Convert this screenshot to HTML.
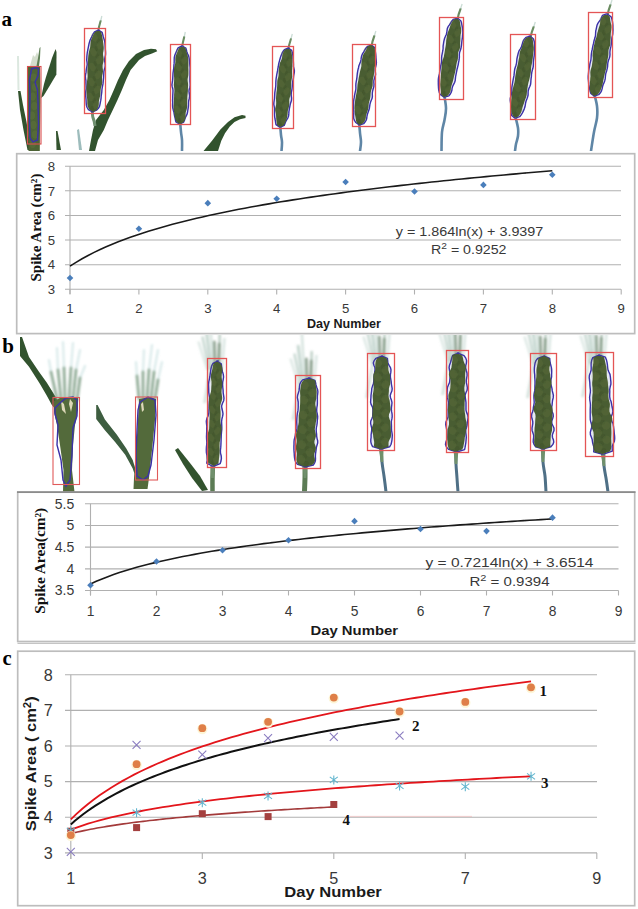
<!DOCTYPE html>
<html><head><meta charset="utf-8"><style>
html,body{margin:0;padding:0;background:#fff;width:638px;height:909px;overflow:hidden;}
svg{display:block;}
</style></head><body>
<svg width="638" height="909" viewBox="0 0 638 909">
<rect width="638" height="909" fill="#fff"/>
<defs><filter id="bl" x="-5%" y="-5%" width="110%" height="110%"><feGaussianBlur stdDeviation="0.45"/></filter><filter id="bl2" x="-50%" y="-50%" width="200%" height="200%"><feGaussianBlur stdDeviation="0.9"/></filter><clipPath id="ca"><rect x="0" y="0" width="638" height="151"/></clipPath><clipPath id="cb"><rect x="0" y="335" width="638" height="157"/></clipPath></defs>
<g filter="url(#bl)"><g clip-path="url(#ca)">
<path d="M17,56 L19,56 L19.5,90 L17.5,90Z" fill="#dce8e0"/>
<path d="M18,91 L20.5,91 L23,105 L26.5,122 L29.5,140 L30,150 L27.5,150 L23.5,130 L20,110Z" fill="#33532f"/>
<path d="M41,98 L44,84 L46,77 L52,58 L55.6,49 L56.5,52 L56.4,74.5 L50.6,84.3 L43.5,96Z" fill="#33532f"/>
<path d="M56,131 L57.5,131 L61,150 L56.5,150Z" fill="#33532f"/>
<path d="M89,151 L91,140 L93,130 L96,120 L103.8,110 L109.4,100 L113.8,90 L118,80 L123,70 L129,61 L136,54 L144,50 L151,48.8 L156,49.3 L157.2,51.2 L152,53.5 L145,56 L139,60 L134,66 L130.6,70 L126,80 L121.9,90 L117.5,100 L112.8,110 L108,120 L103.8,130 L98,140 L95,151Z" fill="#33532f"/>
<path d="M77,130 L79,129 L82,150 L79,150Z" fill="#9dbcbc"/>
<path d="M203.5,151 L212,140.7 L220.4,129.5 L228,122 L234.5,117.2 L242,114.9 L245.5,115.8 L245.5,118 L240,119.2 L234.5,122 L229.8,126.6 L225,133.2 L221.3,140.7 L218,151Z" fill="#33532f"/>
<path d="M30,66 L33,55 L35,57 L37,52 L38.5,56 L38,66Z" fill="#c9d6c0" opacity="0.8"/>
<path d="M36.5,66 L38,58 L39.5,48 L40.5,47 L40,58 L39,66Z" fill="#5f8056"/>
<path d="M28,67 L40,67 L40.5,100 L40,130 L39.8,151 L28.5,151 L28,130 Z" fill="#4e6434"/>
<ellipse cx="33.5" cy="77.5" rx="3" ry="4" fill="#6b7f46" opacity="0.3"/>
<ellipse cx="35.1" cy="87.0" rx="3" ry="4" fill="#6b7f46" opacity="0.3"/>
<ellipse cx="32.7" cy="96.5" rx="3" ry="4" fill="#6b7f46" opacity="0.3"/>
<ellipse cx="34.3" cy="106.0" rx="3" ry="4" fill="#6b7f46" opacity="0.3"/>
<ellipse cx="31.9" cy="115.5" rx="3" ry="4" fill="#6b7f46" opacity="0.3"/>
<ellipse cx="33.5" cy="125.0" rx="3" ry="4" fill="#6b7f46" opacity="0.3"/>
<ellipse cx="35.1" cy="134.5" rx="3" ry="4" fill="#6b7f46" opacity="0.3"/>
<ellipse cx="32.7" cy="144.0" rx="3" ry="4" fill="#6b7f46" opacity="0.3"/>
<path d="M31.5,69 L36,67.5 L38.5,69 L38,76 L35,82 L37.5,90 L38,100 L38.5,125 L37.5,140 L33,142 L30,138 L29.5,120 L30,95 L29.5,80Z" fill="none" stroke="#3a30a8" stroke-width="1.4"/>
<rect x="27.5" y="66.5" width="13.5" height="77.5" fill="none" stroke="#d95050" stroke-width="1.1"/>
<path d="M92.5,109.0 C92.0,122.0 93.5,114.0 95.0,126.0" stroke="#6f9070" stroke-width="3" fill="none"/>
<path d="M98.0,34.0 Q98.8,26.0 100.6,21.0" stroke="#6a8c60" stroke-width="2.1" fill="none" stroke-linecap="round"/>
<line x1="100.6" y1="21.0" x2="101.9" y2="16.0" stroke="#a9c6bb" stroke-width="1.3" opacity="0.6"/>
<path d="M98.7,30.0 L94.5,31.8 L93.2,33.8 L92.2,35.8 L91.2,37.8 L90.2,39.8 L89.6,41.8 L89.0,43.8 L88.6,45.8 L88.2,47.9 L87.8,49.9 L87.4,51.9 L87.1,54.0 L86.9,56.0 L86.8,58.1 L86.7,60.1 L87.0,62.2 L87.2,64.3 L86.9,66.3 L86.5,68.4 L86.2,70.4 L86.0,72.4 L85.5,74.5 L85.3,76.5 L85.5,78.6 L85.9,80.7 L85.9,82.7 L86.0,84.8 L86.1,86.9 L86.1,88.9 L85.8,91.0 L85.6,93.0 L85.6,95.1 L85.8,97.1 L86.0,99.2 L86.1,101.3 L86.2,103.3 L86.4,105.4 L87.1,107.5 L88.4,109.7 L92.5,112.0 L92.1,112.0 L96.5,110.2 L98.4,108.3 L99.5,106.3 L100.0,104.3 L100.4,102.2 L100.8,100.2 L101.1,98.2 L101.2,96.1 L101.5,94.1 L101.8,92.0 L101.9,90.0 L102.2,87.9 L102.6,85.9 L103.0,83.9 L103.2,81.8 L103.4,79.8 L103.6,77.7 L103.7,75.7 L103.8,73.6 L103.9,71.6 L104.3,69.6 L105.0,67.5 L105.3,65.5 L105.1,63.4 L104.7,61.3 L104.6,59.3 L105.0,57.2 L105.5,55.2 L105.6,53.2 L105.5,51.1 L105.3,49.0 L105.2,47.0 L105.1,44.9 L104.9,42.8 L104.6,40.7 L103.9,38.6 L103.2,36.5 L102.7,34.4 L102.1,32.3 L98.5,30.0Z" fill="#e6e9f3" stroke="#3a30a8" stroke-width="1.4" stroke-linejoin="round"/>
<path d="M98.6,30.0 L95.0,31.9 L93.8,33.8 L92.9,35.8 L92.0,37.8 L91.1,39.8 L90.6,41.9 L90.4,43.9 L90.3,46.0 L90.0,48.0 L89.4,50.0 L88.9,52.0 L88.6,54.1 L88.3,56.1 L88.1,58.2 L88.0,60.2 L87.9,62.3 L87.9,64.3 L87.7,66.4 L87.5,68.4 L87.4,70.5 L87.4,72.5 L87.6,74.6 L87.6,76.7 L87.4,78.7 L87.1,80.7 L86.9,82.8 L86.7,84.8 L86.5,86.9 L86.4,88.9 L86.5,91.0 L86.6,93.1 L86.7,95.1 L87.0,97.2 L87.2,99.3 L87.3,101.4 L87.3,103.4 L87.5,105.5 L88.2,107.6 L89.5,109.7 L93.0,112.0 L93.0,112.0 L96.5,110.2 L97.7,108.2 L98.5,106.2 L98.8,104.2 L98.8,102.1 L99.1,100.1 L99.6,98.1 L100.1,96.0 L100.4,94.0 L100.5,91.9 L100.6,89.9 L100.9,87.9 L101.6,85.8 L102.1,83.8 L102.2,81.8 L102.1,79.7 L102.0,77.6 L102.2,75.6 L102.7,73.6 L103.0,71.5 L102.9,69.5 L102.6,67.4 L102.6,65.3 L103.0,63.3 L103.5,61.3 L103.7,59.2 L103.4,57.1 L103.0,55.0 L103.0,53.0 L103.4,51.0 L103.7,48.9 L103.7,46.9 L103.4,44.8 L103.1,42.7 L102.9,40.6 L102.6,38.5 L102.2,36.5 L101.8,34.4 L101.3,32.3 L98.3,30.0Z" fill="#495d31"/>
<ellipse cx="94.5" cy="37.3" rx="3.0" ry="4.5" fill="#6d8148" opacity="0.22" transform="rotate(-25 94.5 37.3)"/>
<ellipse cx="98.2" cy="41.2" rx="1.8" ry="2.6" fill="#3a4c26" opacity="0.28"/>
<ellipse cx="100.0" cy="45.1" rx="3.0" ry="4.5" fill="#6d8148" opacity="0.22" transform="rotate(25 100.0 45.1)"/>
<ellipse cx="96.3" cy="48.6" rx="1.8" ry="2.6" fill="#3a4c26" opacity="0.28"/>
<ellipse cx="93.5" cy="52.2" rx="3.0" ry="4.5" fill="#6d8148" opacity="0.22" transform="rotate(-25 93.5 52.2)"/>
<ellipse cx="97.2" cy="56.1" rx="1.8" ry="2.6" fill="#3a4c26" opacity="0.28"/>
<ellipse cx="99.0" cy="60.0" rx="3.0" ry="4.5" fill="#6d8148" opacity="0.22" transform="rotate(25 99.0 60.0)"/>
<ellipse cx="95.3" cy="63.6" rx="1.8" ry="2.6" fill="#3a4c26" opacity="0.28"/>
<ellipse cx="92.5" cy="67.1" rx="3.0" ry="4.5" fill="#6d8148" opacity="0.22" transform="rotate(-25 92.5 67.1)"/>
<ellipse cx="96.2" cy="71.0" rx="1.8" ry="2.6" fill="#3a4c26" opacity="0.28"/>
<ellipse cx="98.0" cy="74.9" rx="3.0" ry="4.5" fill="#6d8148" opacity="0.22" transform="rotate(25 98.0 74.9)"/>
<ellipse cx="94.3" cy="78.5" rx="1.8" ry="2.6" fill="#3a4c26" opacity="0.28"/>
<ellipse cx="91.5" cy="82.0" rx="3.0" ry="4.5" fill="#6d8148" opacity="0.22" transform="rotate(-25 91.5 82.0)"/>
<ellipse cx="95.2" cy="85.9" rx="1.8" ry="2.6" fill="#3a4c26" opacity="0.28"/>
<ellipse cx="97.0" cy="89.8" rx="3.0" ry="4.5" fill="#6d8148" opacity="0.22" transform="rotate(25 97.0 89.8)"/>
<ellipse cx="93.3" cy="93.4" rx="1.8" ry="2.6" fill="#3a4c26" opacity="0.28"/>
<ellipse cx="90.5" cy="96.9" rx="3.0" ry="4.5" fill="#6d8148" opacity="0.22" transform="rotate(-25 90.5 96.9)"/>
<ellipse cx="94.2" cy="100.8" rx="1.8" ry="2.6" fill="#3a4c26" opacity="0.28"/>
<ellipse cx="96.0" cy="104.7" rx="3.0" ry="4.5" fill="#6d8148" opacity="0.22" transform="rotate(25 96.0 104.7)"/>
<ellipse cx="92.3" cy="108.3" rx="1.8" ry="2.6" fill="#3a4c26" opacity="0.28"/>
<rect x="84.5" y="28.5" width="21" height="85" fill="none" stroke="#e45555" stroke-width="1.3"/>
<path d="M180.0,121.0 C180.2,122.8 180.7,128.8 181.0,132.0 C181.3,135.2 181.8,136.8 182.0,140.0 C182.2,143.2 182.0,149.2 182.0,151.0" stroke="#5f86a6" stroke-width="2.6" fill="none" stroke-linecap="round"/>
<path d="M182.0,50.0 Q182.6,42.0 184.2,37.0" stroke="#6a8c60" stroke-width="2.1" fill="none" stroke-linecap="round"/>
<line x1="184.2" y1="37.0" x2="185.3" y2="32.0" stroke="#a9c6bb" stroke-width="1.3" opacity="0.6"/>
<path d="M181.9,46.0 L178.1,47.9 L177.1,49.8 L176.3,51.7 L175.5,53.6 L174.7,55.6 L174.3,57.5 L174.2,59.5 L174.2,61.4 L174.1,63.4 L173.9,65.3 L173.8,67.3 L173.6,69.2 L173.3,71.1 L173.0,73.1 L172.9,75.0 L172.8,77.0 L172.7,78.9 L172.5,80.9 L172.2,82.8 L171.9,84.8 L172.2,86.7 L172.8,88.7 L173.0,90.6 L172.9,92.6 L172.8,94.5 L172.7,96.5 L172.7,98.4 L172.6,100.4 L172.7,102.3 L172.6,104.3 L172.6,106.2 L172.8,108.2 L173.3,110.2 L173.9,112.1 L174.2,114.1 L174.6,116.1 L175.1,118.0 L175.5,120.0 L175.9,121.9 L179.3,124.0 L180.0,124.0 L183.7,122.1 L184.5,120.2 L185.1,118.3 L186.0,116.3 L187.0,114.4 L187.5,112.5 L187.8,110.5 L188.1,108.6 L188.4,106.7 L188.5,104.7 L188.5,102.8 L188.7,100.8 L189.2,98.9 L189.6,96.9 L189.6,95.0 L189.2,93.0 L189.0,91.1 L189.3,89.1 L189.9,87.2 L190.2,85.2 L190.1,83.3 L189.9,81.3 L189.9,79.4 L189.9,77.4 L190.0,75.5 L190.0,73.5 L190.0,71.6 L190.1,69.6 L190.1,67.7 L189.9,65.7 L189.7,63.8 L189.5,61.8 L189.3,59.8 L189.1,57.9 L188.6,55.9 L187.7,54.0 L186.9,52.0 L186.4,50.0 L185.8,48.0 L182.3,46.0Z" fill="#e6e9f3" stroke="#3a30a8" stroke-width="1.4" stroke-linejoin="round"/>
<path d="M182.3,46.0 L179.1,47.9 L178.2,49.8 L177.5,51.7 L176.7,53.7 L175.8,55.6 L175.4,57.5 L175.3,59.5 L175.4,61.4 L175.2,63.4 L174.7,65.3 L174.2,67.3 L174.0,69.2 L174.0,71.2 L173.9,73.1 L173.9,75.1 L174.1,77.0 L174.2,79.0 L174.1,80.9 L174.0,82.9 L173.8,84.8 L174.0,86.8 L174.3,88.7 L174.4,90.7 L174.3,92.6 L174.1,94.6 L174.1,96.5 L174.0,98.5 L173.9,100.4 L173.9,102.4 L173.7,104.3 L173.5,106.3 L173.6,108.2 L173.8,110.2 L174.1,112.1 L174.3,114.1 L174.6,116.1 L175.0,118.0 L175.6,120.0 L176.5,122.0 L179.7,124.0 L180.6,124.0 L183.8,122.1 L184.7,120.2 L185.4,118.3 L185.6,116.3 L185.5,114.4 L185.7,112.4 L186.3,110.5 L186.9,108.6 L187.2,106.6 L187.1,104.7 L187.1,102.7 L187.2,100.8 L187.3,98.8 L187.3,96.9 L187.5,94.9 L187.7,93.0 L187.9,91.0 L187.9,89.1 L188.0,87.1 L188.1,85.2 L188.0,83.2 L187.7,81.3 L187.6,79.3 L187.9,77.4 L188.3,75.4 L188.4,73.5 L188.4,71.5 L188.4,69.6 L188.3,67.6 L188.4,65.7 L188.4,63.7 L188.3,61.8 L188.2,59.8 L188.1,57.9 L187.8,55.9 L187.2,53.9 L186.6,52.0 L186.1,50.0 L185.3,48.0 L182.2,46.0Z" fill="#495d31"/>
<ellipse cx="179.0" cy="53.0" rx="2.8" ry="4.3" fill="#6d8148" opacity="0.22" transform="rotate(-25 179.0 53.0)"/>
<ellipse cx="182.5" cy="56.6" rx="1.7" ry="2.5" fill="#3a4c26" opacity="0.28"/>
<ellipse cx="184.4" cy="60.3" rx="2.8" ry="4.3" fill="#6d8148" opacity="0.22" transform="rotate(25 184.4 60.3)"/>
<ellipse cx="180.9" cy="63.7" rx="1.7" ry="2.5" fill="#3a4c26" opacity="0.28"/>
<ellipse cx="178.7" cy="67.2" rx="2.8" ry="4.3" fill="#6d8148" opacity="0.22" transform="rotate(-25 178.7 67.2)"/>
<ellipse cx="182.2" cy="70.8" rx="1.7" ry="2.5" fill="#3a4c26" opacity="0.28"/>
<ellipse cx="184.1" cy="74.4" rx="2.8" ry="4.3" fill="#6d8148" opacity="0.22" transform="rotate(25 184.1 74.4)"/>
<ellipse cx="180.6" cy="77.9" rx="1.7" ry="2.5" fill="#3a4c26" opacity="0.28"/>
<ellipse cx="178.3" cy="81.4" rx="2.8" ry="4.3" fill="#6d8148" opacity="0.22" transform="rotate(-25 178.3 81.4)"/>
<ellipse cx="181.8" cy="85.0" rx="1.7" ry="2.5" fill="#3a4c26" opacity="0.28"/>
<ellipse cx="183.7" cy="88.6" rx="2.8" ry="4.3" fill="#6d8148" opacity="0.22" transform="rotate(25 183.7 88.6)"/>
<ellipse cx="180.2" cy="92.1" rx="1.7" ry="2.5" fill="#3a4c26" opacity="0.28"/>
<ellipse cx="177.9" cy="95.6" rx="2.8" ry="4.3" fill="#6d8148" opacity="0.22" transform="rotate(-25 177.9 95.6)"/>
<ellipse cx="181.4" cy="99.2" rx="1.7" ry="2.5" fill="#3a4c26" opacity="0.28"/>
<ellipse cx="183.3" cy="102.8" rx="2.8" ry="4.3" fill="#6d8148" opacity="0.22" transform="rotate(25 183.3 102.8)"/>
<ellipse cx="179.8" cy="106.3" rx="1.7" ry="2.5" fill="#3a4c26" opacity="0.28"/>
<ellipse cx="177.6" cy="109.7" rx="2.8" ry="4.3" fill="#6d8148" opacity="0.22" transform="rotate(-25 177.6 109.7)"/>
<ellipse cx="181.1" cy="113.4" rx="1.7" ry="2.5" fill="#3a4c26" opacity="0.28"/>
<ellipse cx="183.0" cy="117.0" rx="2.8" ry="4.3" fill="#6d8148" opacity="0.22" transform="rotate(25 183.0 117.0)"/>
<ellipse cx="179.5" cy="120.5" rx="1.7" ry="2.5" fill="#3a4c26" opacity="0.28"/>
<rect x="170.5" y="44.5" width="20" height="80" fill="none" stroke="#e45555" stroke-width="1.3"/>
<path d="M280.0,124.0 C280.2,125.8 280.7,132.0 281.0,135.0 C281.3,138.0 281.9,139.3 282.0,142.0 C282.1,144.7 281.6,149.5 281.5,151.0" stroke="#5f86a6" stroke-width="2.6" fill="none" stroke-linecap="round"/>
<path d="M288.0,52.0 Q289.0,44.0 290.9,39.0" stroke="#6a8c60" stroke-width="2.1" fill="none" stroke-linecap="round"/>
<line x1="290.9" y1="39.0" x2="292.3" y2="34.0" stroke="#a9c6bb" stroke-width="1.3" opacity="0.6"/>
<path d="M288.4,48.0 L284.4,49.6 L283.0,51.5 L282.0,53.4 L281.2,55.3 L280.5,57.2 L279.9,59.2 L279.4,61.1 L278.9,63.0 L278.5,65.0 L278.2,67.0 L277.8,68.9 L277.5,70.9 L277.1,72.8 L276.7,74.8 L276.4,76.8 L276.1,78.7 L275.9,80.7 L275.8,82.7 L275.8,84.7 L275.7,86.7 L275.4,88.6 L275.1,90.6 L274.8,92.6 L274.7,94.5 L274.6,96.5 L274.5,98.5 L274.2,100.5 L273.9,102.4 L273.8,104.4 L274.2,106.5 L274.5,108.5 L274.5,110.5 L274.5,112.5 L274.5,114.5 L274.6,116.5 L274.9,118.5 L275.3,120.5 L275.6,122.6 L276.0,124.6 L279.3,126.9 L280.5,127.1 L284.2,125.4 L285.0,123.5 L285.7,121.6 L286.8,119.7 L287.9,117.8 L288.6,115.9 L288.8,113.9 L288.9,111.9 L289.2,110.0 L289.5,108.0 L289.9,106.1 L290.3,104.1 L290.9,102.2 L291.5,100.2 L291.6,98.2 L291.3,96.2 L291.2,94.2 L291.4,92.2 L291.8,90.3 L292.1,88.3 L292.3,86.3 L292.4,84.4 L292.6,82.4 L292.9,80.4 L293.4,78.5 L293.6,76.5 L293.9,74.5 L294.3,72.6 L294.4,70.6 L294.0,68.6 L293.5,66.5 L293.5,64.5 L293.4,62.5 L293.3,60.5 L293.1,58.5 L293.0,56.5 L292.7,54.5 L292.3,52.4 L291.7,50.4 L288.3,48.0Z" fill="#e6e9f3" stroke="#3a30a8" stroke-width="1.4" stroke-linejoin="round"/>
<path d="M288.2,48.0 L284.8,49.7 L283.6,51.5 L282.8,53.5 L282.3,55.4 L282.1,57.4 L281.6,59.3 L280.8,61.2 L279.9,63.1 L279.5,65.1 L279.1,67.1 L278.9,69.0 L278.6,71.0 L278.6,73.0 L278.6,75.0 L278.3,76.9 L277.7,78.9 L277.3,80.8 L277.2,82.8 L277.2,84.8 L277.1,86.8 L276.9,88.8 L276.7,90.7 L276.4,92.7 L276.3,94.7 L276.1,96.7 L276.0,98.7 L276.1,100.7 L276.2,102.7 L276.1,104.7 L275.7,106.6 L275.2,108.6 L275.2,110.6 L275.7,112.6 L276.0,114.6 L276.1,116.6 L276.2,118.6 L276.4,120.7 L276.7,122.7 L277.0,124.7 L279.7,127.0 L280.4,127.0 L283.7,125.4 L284.9,123.5 L285.7,121.6 L286.4,119.7 L287.0,117.7 L287.4,115.8 L287.6,113.8 L287.7,111.8 L288.0,109.9 L288.6,107.9 L289.1,106.0 L289.3,104.0 L289.3,102.0 L289.2,100.0 L289.6,98.0 L290.3,96.1 L290.8,94.2 L290.9,92.2 L290.9,90.2 L291.0,88.2 L291.1,86.2 L291.1,84.2 L291.2,82.2 L291.5,80.3 L291.9,78.3 L292.2,76.4 L292.1,74.4 L292.0,72.3 L292.0,70.4 L292.2,68.4 L292.3,66.4 L292.3,64.4 L292.4,62.4 L292.4,60.4 L292.3,58.4 L292.2,56.4 L291.9,54.4 L291.5,52.3 L290.9,50.3 L288.0,48.0Z" fill="#495d31"/>
<ellipse cx="284.5" cy="54.9" rx="2.8" ry="4.3" fill="#6d8148" opacity="0.22" transform="rotate(-25 284.5 54.9)"/>
<ellipse cx="288.0" cy="58.8" rx="1.7" ry="2.5" fill="#3a4c26" opacity="0.28"/>
<ellipse cx="289.3" cy="62.6" rx="2.8" ry="4.3" fill="#6d8148" opacity="0.22" transform="rotate(25 289.3 62.6)"/>
<ellipse cx="285.8" cy="66.0" rx="1.7" ry="2.5" fill="#3a4c26" opacity="0.28"/>
<ellipse cx="283.0" cy="69.3" rx="2.8" ry="4.3" fill="#6d8148" opacity="0.22" transform="rotate(-25 283.0 69.3)"/>
<ellipse cx="286.5" cy="73.2" rx="1.7" ry="2.5" fill="#3a4c26" opacity="0.28"/>
<ellipse cx="287.9" cy="77.0" rx="2.8" ry="4.3" fill="#6d8148" opacity="0.22" transform="rotate(25 287.9 77.0)"/>
<ellipse cx="284.4" cy="80.3" rx="1.7" ry="2.5" fill="#3a4c26" opacity="0.28"/>
<ellipse cx="281.6" cy="83.6" rx="2.8" ry="4.3" fill="#6d8148" opacity="0.22" transform="rotate(-25 281.6 83.6)"/>
<ellipse cx="285.1" cy="87.5" rx="1.7" ry="2.5" fill="#3a4c26" opacity="0.28"/>
<ellipse cx="286.4" cy="91.4" rx="2.8" ry="4.3" fill="#6d8148" opacity="0.22" transform="rotate(25 286.4 91.4)"/>
<ellipse cx="282.9" cy="94.7" rx="1.7" ry="2.5" fill="#3a4c26" opacity="0.28"/>
<ellipse cx="280.1" cy="98.0" rx="2.8" ry="4.3" fill="#6d8148" opacity="0.22" transform="rotate(-25 280.1 98.0)"/>
<ellipse cx="283.6" cy="101.9" rx="1.7" ry="2.5" fill="#3a4c26" opacity="0.28"/>
<ellipse cx="285.0" cy="105.7" rx="2.8" ry="4.3" fill="#6d8148" opacity="0.22" transform="rotate(25 285.0 105.7)"/>
<ellipse cx="281.5" cy="109.1" rx="1.7" ry="2.5" fill="#3a4c26" opacity="0.28"/>
<ellipse cx="278.7" cy="112.4" rx="2.8" ry="4.3" fill="#6d8148" opacity="0.22" transform="rotate(-25 278.7 112.4)"/>
<ellipse cx="282.2" cy="116.2" rx="1.7" ry="2.5" fill="#3a4c26" opacity="0.28"/>
<ellipse cx="283.5" cy="120.1" rx="2.8" ry="4.3" fill="#6d8148" opacity="0.22" transform="rotate(25 283.5 120.1)"/>
<ellipse cx="280.0" cy="123.4" rx="1.7" ry="2.5" fill="#3a4c26" opacity="0.28"/>
<rect x="272.5" y="46.5" width="21" height="82" fill="none" stroke="#e45555" stroke-width="1.3"/>
<path d="M359.0,122.0 C359.2,123.8 359.7,129.7 360.0,133.0 C360.3,136.3 361.0,139.0 361.0,142.0 C361.0,145.0 360.2,149.5 360.0,151.0" stroke="#5f86a6" stroke-width="2.6" fill="none" stroke-linecap="round"/>
<path d="M371.0,49.0 Q372.2,41.0 374.3,36.0" stroke="#6a8c60" stroke-width="2.1" fill="none" stroke-linecap="round"/>
<line x1="374.3" y1="36.0" x2="375.9" y2="31.0" stroke="#a9c6bb" stroke-width="1.3" opacity="0.6"/>
<path d="M371.7,45.1 L367.4,46.5 L365.8,48.3 L364.7,50.2 L363.6,52.1 L362.4,53.9 L361.6,55.9 L361.2,57.8 L361.0,59.9 L360.5,61.8 L359.7,63.8 L358.9,65.7 L358.5,67.7 L358.0,69.6 L357.6,71.6 L357.3,73.6 L357.1,75.6 L356.9,77.6 L356.6,79.6 L356.2,81.6 L355.9,83.6 L355.8,85.7 L355.9,87.7 L355.8,89.8 L355.3,91.7 L354.9,93.7 L354.5,95.7 L354.2,97.7 L353.8,99.7 L353.6,101.7 L353.5,103.7 L353.5,105.8 L353.5,107.8 L353.6,109.9 L353.8,111.9 L353.7,114.0 L353.6,116.0 L353.6,118.1 L354.3,120.2 L355.7,122.5 L359.6,125.1 L359.5,125.1 L363.7,123.7 L365.2,121.8 L366.3,120.0 L366.8,118.0 L367.0,116.0 L367.5,114.0 L368.2,112.1 L368.9,110.1 L369.4,108.2 L369.7,106.2 L370.0,104.1 L370.5,102.2 L371.3,100.3 L372.1,98.3 L372.4,96.3 L372.3,94.3 L372.4,92.2 L372.8,90.3 L373.4,88.3 L373.9,86.3 L374.0,84.3 L373.8,82.2 L373.9,80.2 L374.5,78.2 L375.2,76.3 L375.6,74.3 L375.4,72.2 L375.2,70.2 L375.3,68.1 L375.8,66.2 L376.3,64.2 L376.4,62.2 L376.2,60.1 L376.0,58.0 L375.9,56.0 L375.7,53.9 L375.4,51.8 L375.1,49.7 L374.7,47.6 L371.3,45.1Z" fill="#e6e9f3" stroke="#3a30a8" stroke-width="1.4" stroke-linejoin="round"/>
<path d="M370.5,44.9 L367.3,46.5 L366.6,48.4 L365.9,50.4 L364.8,52.2 L363.5,54.1 L362.7,56.0 L362.3,58.0 L361.9,60.0 L361.5,62.0 L361.4,64.0 L361.4,66.1 L361.0,68.0 L360.4,70.0 L359.9,72.0 L359.5,74.0 L359.1,75.9 L358.7,77.9 L358.4,79.9 L358.0,81.9 L357.6,83.9 L357.4,85.9 L357.3,87.9 L357.1,90.0 L356.7,91.9 L356.3,93.9 L355.9,95.9 L355.6,97.9 L355.2,99.9 L355.0,101.9 L354.8,103.9 L354.6,105.9 L354.5,108.0 L354.7,110.0 L354.8,112.1 L354.9,114.2 L355.3,116.3 L355.7,118.4 L356.0,120.5 L356.5,122.6 L359.4,125.1 L359.3,125.0 L362.9,123.5 L364.3,121.7 L365.3,119.8 L365.8,117.8 L366.0,115.8 L366.5,113.9 L367.2,111.9 L367.9,110.0 L368.4,108.0 L368.6,106.0 L368.7,104.0 L369.1,102.0 L369.7,100.0 L370.2,98.1 L370.5,96.1 L370.6,94.0 L370.8,92.0 L371.3,90.0 L372.0,88.1 L372.6,86.1 L372.7,84.1 L372.7,82.1 L372.8,80.0 L373.2,78.1 L373.7,76.1 L374.0,74.1 L374.2,72.1 L374.3,70.0 L374.5,68.0 L375.0,66.0 L375.4,64.1 L375.5,62.0 L375.6,60.0 L375.6,58.0 L375.6,55.9 L375.5,53.8 L375.2,51.8 L374.9,49.7 L374.3,47.5 L371.4,45.1Z" fill="#495d31"/>
<ellipse cx="367.0" cy="51.8" rx="2.9" ry="4.4" fill="#6d8148" opacity="0.22" transform="rotate(-25 367.0 51.8)"/>
<ellipse cx="370.6" cy="55.9" rx="1.7" ry="2.6" fill="#3a4c26" opacity="0.28"/>
<ellipse cx="371.7" cy="60.0" rx="2.9" ry="4.4" fill="#6d8148" opacity="0.22" transform="rotate(25 371.7 60.0)"/>
<ellipse cx="368.1" cy="63.2" rx="1.7" ry="2.6" fill="#3a4c26" opacity="0.28"/>
<ellipse cx="364.9" cy="66.4" rx="2.9" ry="4.4" fill="#6d8148" opacity="0.22" transform="rotate(-25 364.9 66.4)"/>
<ellipse cx="368.4" cy="70.5" rx="1.7" ry="2.6" fill="#3a4c26" opacity="0.28"/>
<ellipse cx="369.5" cy="74.5" rx="2.9" ry="4.4" fill="#6d8148" opacity="0.22" transform="rotate(25 369.5 74.5)"/>
<ellipse cx="365.9" cy="77.8" rx="1.7" ry="2.6" fill="#3a4c26" opacity="0.28"/>
<ellipse cx="362.7" cy="80.9" rx="2.9" ry="4.4" fill="#6d8148" opacity="0.22" transform="rotate(-25 362.7 80.9)"/>
<ellipse cx="366.3" cy="85.0" rx="1.7" ry="2.6" fill="#3a4c26" opacity="0.28"/>
<ellipse cx="367.3" cy="89.1" rx="2.9" ry="4.4" fill="#6d8148" opacity="0.22" transform="rotate(25 367.3 89.1)"/>
<ellipse cx="363.7" cy="92.3" rx="1.7" ry="2.6" fill="#3a4c26" opacity="0.28"/>
<ellipse cx="360.5" cy="95.5" rx="2.9" ry="4.4" fill="#6d8148" opacity="0.22" transform="rotate(-25 360.5 95.5)"/>
<ellipse cx="364.1" cy="99.6" rx="1.7" ry="2.6" fill="#3a4c26" opacity="0.28"/>
<ellipse cx="365.1" cy="103.6" rx="2.9" ry="4.4" fill="#6d8148" opacity="0.22" transform="rotate(25 365.1 103.6)"/>
<ellipse cx="361.6" cy="106.9" rx="1.7" ry="2.6" fill="#3a4c26" opacity="0.28"/>
<ellipse cx="358.3" cy="110.0" rx="2.9" ry="4.4" fill="#6d8148" opacity="0.22" transform="rotate(-25 358.3 110.0)"/>
<ellipse cx="361.9" cy="114.1" rx="1.7" ry="2.6" fill="#3a4c26" opacity="0.28"/>
<ellipse cx="363.0" cy="118.2" rx="2.9" ry="4.4" fill="#6d8148" opacity="0.22" transform="rotate(25 363.0 118.2)"/>
<ellipse cx="359.4" cy="121.4" rx="1.7" ry="2.6" fill="#3a4c26" opacity="0.28"/>
<rect x="352.5" y="44.5" width="23" height="82" fill="none" stroke="#e45555" stroke-width="1.3"/>
<path d="M444.0,94.0 C444.3,96.3 445.9,103.7 446.0,108.0 C446.1,112.3 445.2,116.0 444.5,120.0 C443.8,124.0 442.5,126.8 442.0,132.0 C441.5,137.2 441.6,147.8 441.5,151.0" stroke="#5f86a6" stroke-width="2.6" fill="none" stroke-linecap="round"/>
<path d="M457.0,22.0 Q458.3,14.0 460.5,9.0" stroke="#6a8c60" stroke-width="2.1" fill="none" stroke-linecap="round"/>
<line x1="460.5" y1="9.0" x2="462.1" y2="4.0" stroke="#a9c6bb" stroke-width="1.3" opacity="0.6"/>
<path d="M457.4,18.1 L453.2,19.4 L451.7,21.2 L450.7,23.0 L449.4,24.9 L448.1,26.7 L447.3,28.6 L447.0,30.6 L446.8,32.5 L446.3,34.5 L445.4,36.4 L444.6,38.3 L444.1,40.2 L443.7,42.2 L443.4,44.2 L443.1,46.1 L443.1,48.2 L442.9,50.2 L442.5,52.1 L442.1,54.1 L441.7,56.1 L441.6,58.1 L441.6,60.1 L441.5,62.1 L441.1,64.1 L440.7,66.0 L440.3,68.0 L440.0,70.0 L439.7,71.9 L439.4,73.9 L438.9,75.9 L438.5,77.8 L438.3,79.8 L438.3,81.9 L438.3,83.9 L438.4,85.9 L438.5,88.0 L438.7,90.0 L439.2,92.2 L440.0,94.3 L443.6,96.9 L444.7,97.1 L448.9,95.8 L450.3,94.0 L451.3,92.1 L451.9,90.2 L452.1,88.2 L452.7,86.3 L453.6,84.4 L454.6,82.5 L455.2,80.6 L455.4,78.6 L455.6,76.6 L456.0,74.6 L456.4,72.7 L456.8,70.7 L457.2,68.7 L457.7,66.8 L458.2,64.8 L458.5,62.9 L458.9,60.9 L459.2,58.9 L459.4,56.9 L459.3,54.9 L459.5,52.9 L460.1,51.0 L460.8,49.1 L461.2,47.1 L461.5,45.1 L461.7,43.1 L461.9,41.1 L462.2,39.1 L462.5,37.2 L462.6,35.2 L462.8,33.1 L462.8,31.1 L462.7,29.1 L462.3,27.0 L461.9,24.9 L461.5,22.8 L460.8,20.7 L457.3,18.0Z" fill="#e6e9f3" stroke="#3a30a8" stroke-width="1.4" stroke-linejoin="round"/>
<path d="M457.6,18.1 L453.9,19.5 L452.4,21.3 L451.4,23.2 L450.6,25.1 L449.9,27.0 L449.2,28.9 L448.5,30.8 L447.7,32.7 L447.2,34.6 L446.9,36.6 L446.5,38.6 L446.2,40.6 L446.1,42.6 L445.9,44.6 L445.6,46.5 L445.2,48.5 L444.9,50.5 L444.6,52.5 L444.2,54.4 L443.9,56.4 L443.3,58.3 L442.5,60.2 L442.0,62.2 L441.8,64.2 L441.7,66.2 L441.5,68.2 L441.3,70.2 L441.1,72.2 L440.9,74.2 L440.8,76.2 L440.7,78.2 L440.6,80.2 L440.4,82.2 L440.2,84.2 L440.3,86.2 L440.5,88.3 L440.8,90.4 L440.9,92.4 L441.0,94.5 L443.6,96.9 L444.5,97.1 L448.0,95.6 L449.2,93.8 L450.2,91.9 L450.7,90.0 L450.9,88.0 L451.4,86.1 L452.0,84.1 L452.6,82.2 L453.1,80.2 L453.6,78.3 L454.0,76.3 L454.5,74.4 L455.0,72.4 L455.4,70.5 L455.8,68.5 L456.1,66.5 L456.4,64.6 L456.8,62.6 L457.4,60.7 L457.9,58.7 L458.0,56.7 L458.0,54.7 L458.1,52.7 L458.8,50.8 L459.7,48.9 L460.1,46.9 L460.1,44.9 L460.1,42.9 L460.3,40.9 L460.4,38.8 L460.4,36.8 L460.6,34.8 L461.0,32.9 L461.2,30.9 L461.2,28.8 L460.7,26.7 L460.3,24.6 L460.1,22.6 L459.6,20.5 L456.8,18.0Z" fill="#495d31"/>
<ellipse cx="453.0" cy="24.7" rx="2.9" ry="4.4" fill="#6d8148" opacity="0.22" transform="rotate(-25 453.0 24.7)"/>
<ellipse cx="456.5" cy="28.8" rx="1.7" ry="2.5" fill="#3a4c26" opacity="0.28"/>
<ellipse cx="457.5" cy="32.8" rx="2.9" ry="4.4" fill="#6d8148" opacity="0.22" transform="rotate(25 457.5 32.8)"/>
<ellipse cx="453.9" cy="36.0" rx="1.7" ry="2.5" fill="#3a4c26" opacity="0.28"/>
<ellipse cx="450.6" cy="39.1" rx="2.9" ry="4.4" fill="#6d8148" opacity="0.22" transform="rotate(-25 450.6 39.1)"/>
<ellipse cx="454.2" cy="43.2" rx="1.7" ry="2.5" fill="#3a4c26" opacity="0.28"/>
<ellipse cx="455.1" cy="47.2" rx="2.9" ry="4.4" fill="#6d8148" opacity="0.22" transform="rotate(25 455.1 47.2)"/>
<ellipse cx="451.6" cy="50.4" rx="1.7" ry="2.5" fill="#3a4c26" opacity="0.28"/>
<ellipse cx="448.2" cy="53.4" rx="2.9" ry="4.4" fill="#6d8148" opacity="0.22" transform="rotate(-25 448.2 53.4)"/>
<ellipse cx="451.8" cy="57.5" rx="1.7" ry="2.5" fill="#3a4c26" opacity="0.28"/>
<ellipse cx="452.8" cy="61.6" rx="2.9" ry="4.4" fill="#6d8148" opacity="0.22" transform="rotate(25 452.8 61.6)"/>
<ellipse cx="449.2" cy="64.7" rx="1.7" ry="2.5" fill="#3a4c26" opacity="0.28"/>
<ellipse cx="445.9" cy="67.8" rx="2.9" ry="4.4" fill="#6d8148" opacity="0.22" transform="rotate(-25 445.9 67.8)"/>
<ellipse cx="449.4" cy="71.9" rx="1.7" ry="2.5" fill="#3a4c26" opacity="0.28"/>
<ellipse cx="450.4" cy="75.9" rx="2.9" ry="4.4" fill="#6d8148" opacity="0.22" transform="rotate(25 450.4 75.9)"/>
<ellipse cx="446.8" cy="79.1" rx="1.7" ry="2.5" fill="#3a4c26" opacity="0.28"/>
<ellipse cx="443.5" cy="82.2" rx="2.9" ry="4.4" fill="#6d8148" opacity="0.22" transform="rotate(-25 443.5 82.2)"/>
<ellipse cx="447.1" cy="86.3" rx="1.7" ry="2.5" fill="#3a4c26" opacity="0.28"/>
<ellipse cx="448.0" cy="90.3" rx="2.9" ry="4.4" fill="#6d8148" opacity="0.22" transform="rotate(25 448.0 90.3)"/>
<ellipse cx="444.5" cy="93.5" rx="1.7" ry="2.5" fill="#3a4c26" opacity="0.28"/>
<rect x="439.5" y="17.5" width="24" height="82" fill="none" stroke="#e45555" stroke-width="1.3"/>
<path d="M515.0,115.0 C515.5,117.2 517.5,124.5 518.0,128.0 C518.5,131.5 518.3,133.3 518.0,136.0 C517.7,138.7 516.5,141.5 516.0,144.0 C515.5,146.5 515.2,149.8 515.0,151.0" stroke="#5f86a6" stroke-width="2.6" fill="none" stroke-linecap="round"/>
<path d="M530.0,40.0 Q531.4,32.0 533.6,27.0" stroke="#6a8c60" stroke-width="2.1" fill="none" stroke-linecap="round"/>
<line x1="533.6" y1="27.0" x2="535.3" y2="22.0" stroke="#a9c6bb" stroke-width="1.3" opacity="0.6"/>
<path d="M530.2,36.0 L525.9,37.4 L524.3,39.2 L523.2,41.1 L522.5,43.1 L522.0,45.1 L521.3,47.1 L520.2,49.0 L519.0,50.9 L518.3,52.9 L517.8,55.0 L517.3,57.0 L516.9,59.0 L516.7,61.1 L516.5,63.2 L516.0,65.2 L515.3,67.2 L514.7,69.2 L514.4,71.3 L514.2,73.4 L514.0,75.4 L513.6,77.5 L513.2,79.5 L512.8,81.6 L512.5,83.6 L512.1,85.7 L511.8,87.8 L511.8,89.9 L511.8,92.0 L511.5,94.1 L510.9,96.1 L510.3,98.1 L510.2,100.2 L510.5,102.3 L510.8,104.5 L510.8,106.6 L510.8,108.7 L510.9,110.9 L511.1,113.0 L511.4,115.2 L514.6,117.9 L515.4,118.1 L519.7,116.7 L521.2,114.9 L522.4,113.0 L523.3,111.1 L524.2,109.1 L524.9,107.1 L525.3,105.1 L525.6,103.0 L526.1,101.0 L526.9,99.0 L527.6,97.0 L528.1,95.0 L528.1,92.9 L528.2,90.8 L528.8,88.7 L529.7,86.8 L530.5,84.8 L530.8,82.7 L530.9,80.7 L531.1,78.6 L531.4,76.5 L531.5,74.4 L531.8,72.3 L532.3,70.3 L532.9,68.3 L533.3,66.3 L533.4,64.2 L533.4,62.0 L533.6,60.0 L533.9,57.9 L534.2,55.8 L534.4,53.7 L534.6,51.7 L534.7,49.6 L534.7,47.5 L534.7,45.3 L534.5,43.2 L534.1,41.0 L533.4,38.7 L530.0,36.0Z" fill="#e6e9f3" stroke="#3a30a8" stroke-width="1.4" stroke-linejoin="round"/>
<path d="M530.4,36.1 L526.7,37.5 L525.0,39.3 L523.9,41.2 L523.1,43.2 L522.4,45.2 L521.8,47.2 L521.0,49.2 L520.2,51.1 L519.6,53.2 L519.4,55.2 L519.2,57.3 L518.7,59.4 L518.3,61.4 L518.0,63.5 L517.5,65.5 L517.0,67.5 L516.5,69.5 L516.1,71.6 L515.8,73.6 L515.4,75.7 L515.1,77.8 L514.9,79.9 L514.6,81.9 L514.1,83.9 L513.5,85.9 L513.0,88.0 L512.6,90.0 L512.1,92.0 L511.8,94.1 L511.6,96.2 L511.4,98.3 L511.2,100.4 L511.1,102.5 L511.1,104.6 L511.0,106.7 L511.1,108.8 L511.2,111.0 L511.6,113.1 L512.6,115.4 L515.6,118.1 L514.8,118.0 L518.4,116.5 L519.8,114.6 L520.9,112.7 L521.6,110.7 L522.1,108.7 L522.7,106.7 L523.4,104.7 L524.1,102.7 L524.7,100.7 L525.5,98.7 L526.2,96.7 L526.7,94.7 L526.9,92.6 L527.1,90.5 L527.4,88.5 L527.7,86.4 L528.0,84.4 L528.5,82.3 L529.1,80.3 L529.6,78.3 L530.0,76.2 L530.4,74.2 L530.8,72.2 L531.0,70.1 L531.1,68.0 L531.3,65.9 L531.8,63.9 L532.2,61.8 L532.5,59.8 L532.8,57.7 L533.0,55.6 L533.2,53.5 L533.5,51.5 L533.8,49.4 L533.8,47.3 L533.5,45.1 L533.1,42.9 L532.9,40.8 L532.5,38.6 L529.7,35.9Z" fill="#495d31"/>
<ellipse cx="525.8" cy="42.9" rx="2.9" ry="4.5" fill="#6d8148" opacity="0.22" transform="rotate(-25 525.8 42.9)"/>
<ellipse cx="529.3" cy="47.2" rx="1.7" ry="2.7" fill="#3a4c26" opacity="0.28"/>
<ellipse cx="530.1" cy="51.4" rx="2.9" ry="4.5" fill="#6d8148" opacity="0.22" transform="rotate(25 530.1 51.4)"/>
<ellipse cx="526.6" cy="54.7" rx="1.7" ry="2.7" fill="#3a4c26" opacity="0.28"/>
<ellipse cx="523.1" cy="57.8" rx="2.9" ry="4.5" fill="#6d8148" opacity="0.22" transform="rotate(-25 523.1 57.8)"/>
<ellipse cx="526.6" cy="62.2" rx="1.7" ry="2.7" fill="#3a4c26" opacity="0.28"/>
<ellipse cx="527.4" cy="66.3" rx="2.9" ry="4.5" fill="#6d8148" opacity="0.22" transform="rotate(25 527.4 66.3)"/>
<ellipse cx="523.8" cy="69.6" rx="1.7" ry="2.7" fill="#3a4c26" opacity="0.28"/>
<ellipse cx="520.3" cy="72.8" rx="2.9" ry="4.5" fill="#6d8148" opacity="0.22" transform="rotate(-25 520.3 72.8)"/>
<ellipse cx="523.9" cy="77.1" rx="1.7" ry="2.7" fill="#3a4c26" opacity="0.28"/>
<ellipse cx="524.7" cy="81.2" rx="2.9" ry="4.5" fill="#6d8148" opacity="0.22" transform="rotate(25 524.7 81.2)"/>
<ellipse cx="521.1" cy="84.5" rx="1.7" ry="2.7" fill="#3a4c26" opacity="0.28"/>
<ellipse cx="517.6" cy="87.7" rx="2.9" ry="4.5" fill="#6d8148" opacity="0.22" transform="rotate(-25 517.6 87.7)"/>
<ellipse cx="521.2" cy="92.0" rx="1.7" ry="2.7" fill="#3a4c26" opacity="0.28"/>
<ellipse cx="521.9" cy="96.2" rx="2.9" ry="4.5" fill="#6d8148" opacity="0.22" transform="rotate(25 521.9 96.2)"/>
<ellipse cx="518.4" cy="99.4" rx="1.7" ry="2.7" fill="#3a4c26" opacity="0.28"/>
<ellipse cx="514.9" cy="102.6" rx="2.9" ry="4.5" fill="#6d8148" opacity="0.22" transform="rotate(-25 514.9 102.6)"/>
<ellipse cx="518.4" cy="106.9" rx="1.7" ry="2.7" fill="#3a4c26" opacity="0.28"/>
<ellipse cx="519.2" cy="111.1" rx="2.9" ry="4.5" fill="#6d8148" opacity="0.22" transform="rotate(25 519.2 111.1)"/>
<ellipse cx="515.7" cy="114.3" rx="1.7" ry="2.7" fill="#3a4c26" opacity="0.28"/>
<rect x="510.5" y="34.5" width="25" height="85" fill="none" stroke="#e45555" stroke-width="1.3"/>
<path d="M594.0,93.0 C594.5,95.2 596.5,101.8 597.0,106.0 C597.5,110.2 597.5,113.7 597.0,118.0 C596.5,122.3 595.0,126.5 594.0,132.0 C593.0,137.5 591.5,147.8 591.0,151.0" stroke="#5f86a6" stroke-width="2.6" fill="none" stroke-linecap="round"/>
<path d="M607.0,18.0 Q608.3,10.0 610.4,5.0" stroke="#6a8c60" stroke-width="2.1" fill="none" stroke-linecap="round"/>
<line x1="610.4" y1="5.0" x2="612.0" y2="0.0" stroke="#a9c6bb" stroke-width="1.3" opacity="0.6"/>
<path d="M606.4,13.9 L602.4,15.4 L601.6,17.3 L600.8,19.3 L599.4,21.2 L598.0,23.1 L597.1,25.0 L596.6,27.1 L596.2,29.1 L595.7,31.1 L595.6,33.2 L595.5,35.3 L595.1,37.3 L594.5,39.3 L593.9,41.3 L593.5,43.4 L593.0,45.4 L592.6,47.4 L592.2,49.5 L591.7,51.5 L591.4,53.6 L591.2,55.6 L591.1,57.7 L590.9,59.8 L590.4,61.8 L589.9,63.8 L589.6,65.9 L589.2,67.9 L588.8,70.0 L588.6,72.0 L588.4,74.1 L588.2,76.2 L588.2,78.3 L588.4,80.4 L588.6,82.5 L588.7,84.7 L589.2,86.8 L589.7,89.0 L590.1,91.2 L590.8,93.4 L594.4,96.1 L594.3,96.1 L598.7,94.7 L600.4,92.8 L601.5,90.9 L602.1,88.9 L602.5,86.8 L603.1,84.8 L603.9,82.9 L604.7,80.9 L605.2,78.9 L605.4,76.8 L605.6,74.7 L606.0,72.7 L606.7,70.7 L607.2,68.7 L607.6,66.6 L607.7,64.5 L607.9,62.5 L608.4,60.5 L609.2,58.5 L609.8,56.5 L610.0,54.4 L609.9,52.3 L610.1,50.2 L610.5,48.2 L611.0,46.2 L611.3,44.1 L611.5,42.0 L611.7,40.0 L611.9,37.9 L612.4,35.9 L612.8,33.8 L612.9,31.8 L613.0,29.7 L612.9,27.6 L612.9,25.4 L612.7,23.3 L612.4,21.2 L611.9,19.0 L611.1,16.7 L607.4,14.1Z" fill="#e6e9f3" stroke="#3a30a8" stroke-width="1.4" stroke-linejoin="round"/>
<path d="M607.2,14.0 L603.3,15.5 L601.8,17.4 L600.7,19.3 L600.2,21.3 L600.1,23.4 L599.6,25.4 L598.9,27.4 L598.3,29.4 L597.8,31.4 L597.2,33.5 L596.8,35.5 L596.3,37.5 L595.5,39.5 L594.9,41.5 L594.5,43.5 L594.0,45.6 L593.6,47.6 L593.3,49.7 L592.9,51.7 L592.6,53.7 L592.5,55.8 L592.8,58.0 L592.7,60.1 L592.4,62.1 L592.1,64.2 L591.8,66.2 L591.2,68.2 L590.6,70.2 L590.3,72.3 L590.4,74.4 L590.5,76.5 L590.3,78.6 L590.1,80.7 L589.9,82.7 L589.9,84.8 L589.7,86.9 L589.8,89.0 L590.1,91.2 L590.9,93.4 L594.0,96.0 L594.1,96.0 L597.8,94.5 L599.3,92.6 L600.3,90.7 L601.1,88.7 L601.8,86.7 L602.4,84.7 L602.9,82.7 L603.2,80.7 L603.7,78.6 L604.1,76.6 L604.6,74.6 L605.0,72.5 L605.6,70.5 L606.2,68.5 L606.5,66.5 L606.7,64.4 L607.0,62.3 L607.4,60.3 L607.8,58.3 L608.2,56.2 L608.4,54.1 L608.4,52.0 L608.5,50.0 L609.1,48.0 L609.9,46.0 L610.3,43.9 L610.4,41.9 L610.5,39.8 L610.7,37.7 L610.7,35.6 L610.8,33.5 L611.0,31.4 L611.3,29.4 L611.5,27.3 L611.4,25.2 L610.8,23.0 L610.3,20.8 L610.1,18.7 L609.7,16.5 L606.8,14.0Z" fill="#495d31"/>
<ellipse cx="602.9" cy="21.0" rx="3.0" ry="4.5" fill="#6d8148" opacity="0.22" transform="rotate(-25 602.9 21.0)"/>
<ellipse cx="606.6" cy="25.2" rx="1.8" ry="2.6" fill="#3a4c26" opacity="0.28"/>
<ellipse cx="607.6" cy="29.4" rx="3.0" ry="4.5" fill="#6d8148" opacity="0.22" transform="rotate(25 607.6 29.4)"/>
<ellipse cx="603.9" cy="32.7" rx="1.8" ry="2.6" fill="#3a4c26" opacity="0.28"/>
<ellipse cx="600.5" cy="35.9" rx="3.0" ry="4.5" fill="#6d8148" opacity="0.22" transform="rotate(-25 600.5 35.9)"/>
<ellipse cx="604.2" cy="40.1" rx="1.8" ry="2.6" fill="#3a4c26" opacity="0.28"/>
<ellipse cx="605.2" cy="44.3" rx="3.0" ry="4.5" fill="#6d8148" opacity="0.22" transform="rotate(25 605.2 44.3)"/>
<ellipse cx="601.5" cy="47.6" rx="1.8" ry="2.6" fill="#3a4c26" opacity="0.28"/>
<ellipse cx="598.1" cy="50.8" rx="3.0" ry="4.5" fill="#6d8148" opacity="0.22" transform="rotate(-25 598.1 50.8)"/>
<ellipse cx="601.8" cy="55.0" rx="1.8" ry="2.6" fill="#3a4c26" opacity="0.28"/>
<ellipse cx="602.9" cy="59.2" rx="3.0" ry="4.5" fill="#6d8148" opacity="0.22" transform="rotate(25 602.9 59.2)"/>
<ellipse cx="599.2" cy="62.5" rx="1.8" ry="2.6" fill="#3a4c26" opacity="0.28"/>
<ellipse cx="595.8" cy="65.7" rx="3.0" ry="4.5" fill="#6d8148" opacity="0.22" transform="rotate(-25 595.8 65.7)"/>
<ellipse cx="599.5" cy="70.0" rx="1.8" ry="2.6" fill="#3a4c26" opacity="0.28"/>
<ellipse cx="600.5" cy="74.1" rx="3.0" ry="4.5" fill="#6d8148" opacity="0.22" transform="rotate(25 600.5 74.1)"/>
<ellipse cx="596.8" cy="77.4" rx="1.8" ry="2.6" fill="#3a4c26" opacity="0.28"/>
<ellipse cx="593.4" cy="80.6" rx="3.0" ry="4.5" fill="#6d8148" opacity="0.22" transform="rotate(-25 593.4 80.6)"/>
<ellipse cx="597.1" cy="84.9" rx="1.8" ry="2.6" fill="#3a4c26" opacity="0.28"/>
<ellipse cx="598.1" cy="89.0" rx="3.0" ry="4.5" fill="#6d8148" opacity="0.22" transform="rotate(25 598.1 89.0)"/>
<ellipse cx="594.4" cy="92.3" rx="1.8" ry="2.6" fill="#3a4c26" opacity="0.28"/>
<rect x="588.5" y="12.5" width="24" height="85" fill="none" stroke="#e45555" stroke-width="1.3"/>
</g><g clip-path="url(#cb)">
<path d="M20,337 L22,337 L29,357 L38.8,371.6 L46.7,382.5 L53.6,393.4 L57,399 L56,410 L52,405.3 L46.7,395.4 L39.7,383.5 L29,366.7 L20,356Z" fill="#33532f"/>
<path d="M96.2,405 L97.6,405 L104.9,419.5 L116.7,434.5 L126.3,448.4 L132.7,460.1 L135,467.6 L135,474 L133.8,471.8 L132.7,468.6 L125.2,454.8 L115.1,442 L104.9,430.2 L96.2,419Z" fill="#3d5d3f"/>
<path d="M175,450 L178,448 L190,463 L200,476 L208,490 L202,491 L192,478 L183,464Z" fill="#33532f"/>
<g filter="url(#bl2)">
<path d="M51,372 L49,360" stroke="#c2dede" stroke-width="2.2" opacity="0.6" stroke-linecap="round" fill="none"/>
<path d="M57,399 L51,372" stroke="#7f9f86" stroke-width="2.8" opacity="0.85" stroke-linecap="round" fill="none"/>
<path d="M58,370 L57,348" stroke="#c2dede" stroke-width="2.2" opacity="0.6" stroke-linecap="round" fill="none"/>
<path d="M61,399 L58,370" stroke="#7f9f86" stroke-width="2.8" opacity="0.85" stroke-linecap="round" fill="none"/>
<path d="M64,368 L63,342" stroke="#c2dede" stroke-width="2.2" opacity="0.6" stroke-linecap="round" fill="none"/>
<path d="M65,399 L64,368" stroke="#7f9f86" stroke-width="2.8" opacity="0.85" stroke-linecap="round" fill="none"/>
<path d="M71,368 L73,343" stroke="#c2dede" stroke-width="2.2" opacity="0.6" stroke-linecap="round" fill="none"/>
<path d="M69,399 L71,368" stroke="#7f9f86" stroke-width="2.8" opacity="0.85" stroke-linecap="round" fill="none"/>
<path d="M76,370 L80,350" stroke="#c2dede" stroke-width="2.2" opacity="0.6" stroke-linecap="round" fill="none"/>
<path d="M73,399 L76,370" stroke="#7f9f86" stroke-width="2.8" opacity="0.85" stroke-linecap="round" fill="none"/>
<path d="M80,378 L85,366" stroke="#c2dede" stroke-width="2.2" opacity="0.6" stroke-linecap="round" fill="none"/>
<path d="M77,400 L80,378" stroke="#7f9f86" stroke-width="2.8" opacity="0.85" stroke-linecap="round" fill="none"/>
</g>
<path d="M54,401 L60,398 L70,397 L78,398 L78,410 L75,425 L73,445 L72,470 L74.5,492 L63,492 L63.5,470 L60,445 L57,425 L54,412Z" fill="#526a3a"/>
<path d="M61,401 L64,404 L66,414 L62,410Z M70,399 L73,403 L71,412 L69,404Z" fill="#ece4c8" opacity="0.9"/>
<path d="M55,408 L60,403 L66,398 L73,397 L77,400 L77,416 L73,428 L72,455 L70,480 L66,486 L63,480 L61,460 L57,445 L58,425 L55,414Z" fill="none" stroke="#3a30a8" stroke-width="1.4"/>
<rect x="53" y="397.5" width="26.5" height="87" fill="none" stroke="#e05a5a" stroke-width="1.1"/>
<g filter="url(#bl2)">
<path d="M137,376 L136,362" stroke="#c2dede" stroke-width="2.2" opacity="0.6" stroke-linecap="round" fill="none"/>
<path d="M139,399 L137,376" stroke="#7f9f86" stroke-width="2.8" opacity="0.85" stroke-linecap="round" fill="none"/>
<path d="M143,372 L144,350" stroke="#c2dede" stroke-width="2.2" opacity="0.6" stroke-linecap="round" fill="none"/>
<path d="M143,399 L143,372" stroke="#7f9f86" stroke-width="2.8" opacity="0.85" stroke-linecap="round" fill="none"/>
<path d="M149,370 L152,345" stroke="#c2dede" stroke-width="2.2" opacity="0.6" stroke-linecap="round" fill="none"/>
<path d="M147,399 L149,370" stroke="#7f9f86" stroke-width="2.8" opacity="0.85" stroke-linecap="round" fill="none"/>
<path d="M154,372 L158,350" stroke="#c2dede" stroke-width="2.2" opacity="0.6" stroke-linecap="round" fill="none"/>
<path d="M151,399 L154,372" stroke="#7f9f86" stroke-width="2.8" opacity="0.85" stroke-linecap="round" fill="none"/>
<path d="M158,380 L162,362" stroke="#c2dede" stroke-width="2.2" opacity="0.6" stroke-linecap="round" fill="none"/>
<path d="M155,399 L158,380" stroke="#7f9f86" stroke-width="2.8" opacity="0.85" stroke-linecap="round" fill="none"/>
</g>
<path d="M139,399 L150,397 L156,399 L155,420 L152,450 L149,478 L147.5,489 L133.5,489 L134,478 L136,450 L138,420Z" fill="#526a3a"/>
<path d="M141,404 L143,402 L144,410 L142,412Z" fill="#ece4c8" opacity="0.9"/>
<path d="M140,402 L148,397 L155,400 L156,415 L154,440 L151,465 L148,476 L143,480 L137,476 L136,455 L137,430 L138,410Z" fill="none" stroke="#3a30a8" stroke-width="1.4"/>
<rect x="135.5" y="397" width="22" height="83" fill="none" stroke="#e05a5a" stroke-width="1.1"/>
<path d="M213.0,463.0 C212.9,465.5 212.6,473.3 212.5,478.0 C212.4,482.7 212.5,488.8 212.5,491.0" stroke="#5c7c55" stroke-width="4.5" fill="none" stroke-linecap="round"/>
<path d="M210.5,463.0 L215.5,463.0 L213.8,478.0 L211.2,478.0Z" fill="#70906c"/>
<g filter="url(#bl2)">
<line x1="211.0" y1="369.0" x2="206.2" y2="329.3" stroke="#b4cbc2" stroke-width="3" opacity="0.75" stroke-linecap="round"/>
<line x1="213.0" y1="369.0" x2="209.7" y2="314.1" stroke="#c4d8d0" stroke-width="2.6" opacity="0.65" stroke-linecap="round"/>
<line x1="222.0" y1="369.0" x2="224.4" y2="339.1" stroke="#c4d8d0" stroke-width="2.6" opacity="0.6" stroke-linecap="round"/>
<line x1="209.0" y1="369.0" x2="202.6" y2="337.6" stroke="#b4cbc2" stroke-width="2.6" opacity="0.7" stroke-linecap="round"/>
<line x1="219.0" y1="369.0" x2="219.7" y2="335.0" stroke="#a9c0b4" stroke-width="2.6" opacity="0.7" stroke-linecap="round"/>
<line x1="207.0" y1="369.0" x2="198.7" y2="342.3" stroke="#c4d8d0" stroke-width="2.4" opacity="0.55" stroke-linecap="round"/>
<line x1="210.9" y1="365.0" x2="204.6" y2="403.0" stroke="#bcd0c8" stroke-width="3" opacity="0.6"/>
<line x1="215.0" y1="366.0" x2="214.3" y2="342.0" stroke="#7d957f" stroke-width="2.8" opacity="0.85" stroke-linecap="round"/>
<line x1="218.5" y1="366.0" x2="219.2" y2="344.0" stroke="#7d957f" stroke-width="2.8" opacity="0.85" stroke-linecap="round"/>
</g>
<path d="M218.2,361.0 L212.9,363.5 L211.6,366.1 L211.0,368.7 L210.6,371.3 L210.2,373.9 L209.9,376.5 L209.4,379.1 L208.8,381.7 L208.5,384.3 L208.6,387.0 L208.7,389.6 L208.7,392.2 L209.1,394.9 L209.5,397.5 L209.4,400.1 L209.2,402.8 L209.1,405.4 L209.0,408.0 L208.9,410.6 L208.8,413.3 L208.1,415.9 L206.9,418.4 L206.3,421.1 L206.5,423.7 L206.8,426.3 L206.7,429.0 L206.7,431.6 L206.6,434.2 L206.5,436.8 L206.6,439.5 L206.8,442.1 L206.7,444.7 L206.4,447.3 L206.3,450.0 L206.4,452.6 L206.9,455.3 L207.3,457.9 L207.2,460.5 L206.7,463.1 L212.1,466.0 L214.1,466.0 L220.2,463.6 L221.0,461.0 L221.4,458.4 L221.2,455.8 L220.5,453.1 L220.4,450.5 L220.7,447.9 L220.9,445.3 L221.0,442.6 L221.1,440.0 L221.2,437.4 L221.3,434.8 L221.5,432.2 L221.8,429.5 L221.8,426.9 L221.7,424.3 L221.6,421.6 L221.9,419.0 L222.6,416.4 L223.0,413.8 L222.6,411.2 L221.9,408.5 L221.6,405.9 L222.5,403.3 L223.7,400.7 L224.0,398.1 L223.6,395.4 L223.2,392.8 L223.1,390.1 L222.8,387.5 L222.6,384.9 L222.7,382.2 L223.2,379.6 L223.6,377.0 L223.3,374.4 L222.5,371.7 L221.8,369.1 L221.6,366.4 L221.3,363.8 L216.7,361.0Z" fill="#e6e9f3" stroke="#3a30a8" stroke-width="1.4" stroke-linejoin="round"/>
<path d="M217.6,361.0 L213.5,363.5 L212.9,366.1 L212.5,368.7 L211.8,371.3 L211.1,373.9 L210.8,376.5 L211.1,379.2 L211.6,381.8 L211.5,384.5 L211.3,387.1 L211.2,389.7 L210.9,392.3 L210.0,394.9 L209.2,397.5 L209.0,400.1 L208.9,402.8 L208.8,405.4 L208.9,408.0 L209.5,410.7 L209.7,413.3 L209.6,415.9 L209.5,418.5 L209.4,421.2 L209.3,423.8 L209.2,426.4 L209.1,429.0 L208.4,431.6 L207.5,434.2 L207.3,436.9 L207.6,439.5 L207.9,442.1 L207.9,444.8 L208.0,447.4 L208.1,450.0 L207.8,452.7 L207.0,455.3 L206.6,457.9 L207.1,460.5 L208.5,463.2 L213.9,466.0 L213.5,466.0 L218.4,463.6 L218.7,461.0 L219.0,458.3 L219.3,455.7 L219.6,453.1 L219.7,450.5 L219.6,447.9 L219.5,445.2 L219.6,442.6 L220.2,440.0 L220.7,437.4 L220.9,434.8 L221.4,432.1 L221.7,429.5 L221.6,426.9 L220.8,424.2 L220.4,421.6 L220.4,419.0 L220.5,416.3 L220.6,413.7 L220.5,411.1 L220.2,408.4 L220.2,405.8 L220.8,403.2 L221.8,400.6 L222.2,398.0 L221.9,395.4 L221.5,392.7 L221.6,390.1 L222.0,387.5 L222.3,384.9 L222.3,382.2 L221.9,379.6 L221.6,376.9 L221.7,374.3 L222.3,371.7 L222.5,369.1 L222.0,366.4 L220.8,363.8 L216.5,361.0Z" fill="#495d31"/>
<ellipse cx="214.0" cy="367.9" rx="2.7" ry="4.2" fill="#6d8148" opacity="0.22" transform="rotate(-25 214.0 367.9)"/>
<ellipse cx="217.4" cy="371.5" rx="1.6" ry="2.5" fill="#3a4c26" opacity="0.28"/>
<ellipse cx="219.2" cy="375.1" rx="2.7" ry="4.2" fill="#6d8148" opacity="0.22" transform="rotate(25 219.2 375.1)"/>
<ellipse cx="215.8" cy="378.5" rx="1.6" ry="2.5" fill="#3a4c26" opacity="0.28"/>
<ellipse cx="213.5" cy="381.9" rx="2.7" ry="4.2" fill="#6d8148" opacity="0.22" transform="rotate(-25 213.5 381.9)"/>
<ellipse cx="216.9" cy="385.5" rx="1.6" ry="2.5" fill="#3a4c26" opacity="0.28"/>
<ellipse cx="218.6" cy="389.1" rx="2.7" ry="4.2" fill="#6d8148" opacity="0.22" transform="rotate(25 218.6 389.1)"/>
<ellipse cx="215.3" cy="392.5" rx="1.6" ry="2.5" fill="#3a4c26" opacity="0.28"/>
<ellipse cx="213.0" cy="395.9" rx="2.7" ry="4.2" fill="#6d8148" opacity="0.22" transform="rotate(-25 213.0 395.9)"/>
<ellipse cx="216.3" cy="399.5" rx="1.6" ry="2.5" fill="#3a4c26" opacity="0.28"/>
<ellipse cx="218.1" cy="403.1" rx="2.7" ry="4.2" fill="#6d8148" opacity="0.22" transform="rotate(25 218.1 403.1)"/>
<ellipse cx="214.7" cy="406.5" rx="1.6" ry="2.5" fill="#3a4c26" opacity="0.28"/>
<ellipse cx="212.4" cy="409.9" rx="2.7" ry="4.2" fill="#6d8148" opacity="0.22" transform="rotate(-25 212.4 409.9)"/>
<ellipse cx="215.8" cy="413.5" rx="1.6" ry="2.5" fill="#3a4c26" opacity="0.28"/>
<ellipse cx="217.6" cy="417.1" rx="2.7" ry="4.2" fill="#6d8148" opacity="0.22" transform="rotate(25 217.6 417.1)"/>
<ellipse cx="214.2" cy="420.5" rx="1.6" ry="2.5" fill="#3a4c26" opacity="0.28"/>
<ellipse cx="211.9" cy="423.9" rx="2.7" ry="4.2" fill="#6d8148" opacity="0.22" transform="rotate(-25 211.9 423.9)"/>
<ellipse cx="215.3" cy="427.5" rx="1.6" ry="2.5" fill="#3a4c26" opacity="0.28"/>
<ellipse cx="217.0" cy="431.1" rx="2.7" ry="4.2" fill="#6d8148" opacity="0.22" transform="rotate(25 217.0 431.1)"/>
<ellipse cx="213.7" cy="434.5" rx="1.6" ry="2.5" fill="#3a4c26" opacity="0.28"/>
<ellipse cx="211.4" cy="437.9" rx="2.7" ry="4.2" fill="#6d8148" opacity="0.22" transform="rotate(-25 211.4 437.9)"/>
<ellipse cx="214.7" cy="441.5" rx="1.6" ry="2.5" fill="#3a4c26" opacity="0.28"/>
<ellipse cx="216.5" cy="445.1" rx="2.7" ry="4.2" fill="#6d8148" opacity="0.22" transform="rotate(25 216.5 445.1)"/>
<ellipse cx="213.1" cy="448.5" rx="1.6" ry="2.5" fill="#3a4c26" opacity="0.28"/>
<ellipse cx="210.8" cy="451.9" rx="2.7" ry="4.2" fill="#6d8148" opacity="0.22" transform="rotate(-25 210.8 451.9)"/>
<ellipse cx="214.2" cy="455.5" rx="1.6" ry="2.5" fill="#3a4c26" opacity="0.28"/>
<ellipse cx="216.0" cy="459.1" rx="2.7" ry="4.2" fill="#6d8148" opacity="0.22" transform="rotate(25 216.0 459.1)"/>
<ellipse cx="212.6" cy="462.5" rx="1.6" ry="2.5" fill="#3a4c26" opacity="0.28"/>
<rect x="207.5" y="358.5" width="19" height="109" fill="none" stroke="#e45555" stroke-width="1.3"/>
<path d="M305.0,464.0 C305.0,466.3 305.1,473.5 305.0,478.0 C304.9,482.5 304.6,488.8 304.5,491.0" stroke="#5c7c55" stroke-width="5" fill="none" stroke-linecap="round"/>
<path d="M302.5,464.0 L307.5,464.0 L306.3,478.0 L303.7,478.0Z" fill="#70906c"/>
<g filter="url(#bl2)">
<line x1="303.0" y1="386.0" x2="298.2" y2="346.3" stroke="#b4cbc2" stroke-width="3" opacity="0.75" stroke-linecap="round"/>
<line x1="305.0" y1="386.0" x2="301.7" y2="331.1" stroke="#c4d8d0" stroke-width="2.6" opacity="0.65" stroke-linecap="round"/>
<line x1="314.0" y1="386.0" x2="316.4" y2="356.1" stroke="#c4d8d0" stroke-width="2.6" opacity="0.6" stroke-linecap="round"/>
<line x1="301.0" y1="386.0" x2="294.6" y2="354.6" stroke="#b4cbc2" stroke-width="2.6" opacity="0.7" stroke-linecap="round"/>
<line x1="311.0" y1="386.0" x2="311.7" y2="352.0" stroke="#a9c0b4" stroke-width="2.6" opacity="0.7" stroke-linecap="round"/>
<line x1="299.0" y1="386.0" x2="290.7" y2="359.3" stroke="#c4d8d0" stroke-width="2.4" opacity="0.55" stroke-linecap="round"/>
<line x1="300.0" y1="382.0" x2="293.0" y2="420.0" stroke="#bcd0c8" stroke-width="3" opacity="0.6"/>
<line x1="307.0" y1="383.0" x2="306.3" y2="359.0" stroke="#7d957f" stroke-width="2.8" opacity="0.85" stroke-linecap="round"/>
<line x1="310.5" y1="383.0" x2="311.2" y2="361.0" stroke="#7d957f" stroke-width="2.8" opacity="0.85" stroke-linecap="round"/>
</g>
<path d="M310.0,378.0 L302.6,379.9 L300.8,382.1 L299.8,384.3 L299.5,386.5 L299.3,388.7 L299.0,390.9 L298.3,393.1 L297.6,395.3 L297.3,397.5 L297.8,399.8 L298.2,402.0 L298.2,404.3 L298.2,406.5 L298.1,408.7 L297.9,410.9 L297.4,413.2 L297.1,415.4 L296.9,417.6 L296.8,419.8 L296.7,422.0 L296.8,424.3 L297.0,426.5 L297.0,428.7 L296.4,430.9 L295.6,433.1 L295.3,435.3 L294.8,437.6 L294.2,439.8 L294.0,442.0 L294.0,444.2 L293.9,446.4 L293.9,448.7 L294.0,450.9 L294.2,453.1 L294.3,455.4 L294.5,457.6 L294.9,459.9 L295.7,462.1 L297.5,464.4 L306.4,467.1 L304.6,467.0 L313.3,465.1 L314.6,463.0 L315.4,460.8 L315.5,458.6 L315.4,456.3 L315.5,454.1 L315.8,451.9 L316.1,449.7 L316.4,447.4 L317.0,445.2 L317.7,443.0 L317.7,440.8 L317.1,438.6 L316.7,436.3 L316.6,434.1 L316.3,431.8 L316.2,429.6 L316.4,427.4 L316.9,425.2 L317.2,423.0 L317.3,420.7 L317.6,418.5 L317.7,416.3 L317.3,414.0 L316.8,411.8 L316.7,409.6 L316.9,407.3 L317.3,405.1 L317.4,402.9 L317.4,400.7 L317.4,398.4 L317.4,396.2 L317.7,394.0 L317.9,391.8 L317.6,389.5 L316.7,387.3 L316.0,385.0 L315.6,382.8 L314.9,380.5 L308.2,378.0Z" fill="#e6e9f3" stroke="#3a30a8" stroke-width="1.4" stroke-linejoin="round"/>
<path d="M310.3,378.1 L303.8,380.0 L302.1,382.1 L301.2,384.3 L300.7,386.5 L300.4,388.8 L300.1,391.0 L300.1,393.2 L300.3,395.4 L300.2,397.7 L300.2,399.9 L300.2,402.1 L300.1,404.4 L299.9,406.6 L299.8,408.8 L299.6,411.0 L299.1,413.2 L298.7,415.4 L298.7,417.7 L298.7,419.9 L298.7,422.1 L298.4,424.3 L297.9,426.5 L297.6,428.8 L297.0,431.0 L296.2,433.2 L295.9,435.4 L296.2,437.6 L296.7,439.9 L296.7,442.1 L296.3,444.3 L295.9,446.5 L295.9,448.8 L296.4,451.0 L296.9,453.3 L296.8,455.5 L296.5,457.7 L296.4,459.9 L297.0,462.2 L298.2,464.5 L305.8,467.0 L304.4,467.0 L312.3,465.1 L314.1,463.0 L315.0,460.8 L314.8,458.5 L314.2,456.3 L314.2,454.0 L315.0,451.8 L315.8,449.6 L315.9,447.4 L315.2,445.2 L314.4,442.9 L314.5,440.7 L315.3,438.5 L315.9,436.3 L315.8,434.0 L315.2,431.8 L314.8,429.5 L315.0,427.3 L315.5,425.1 L315.7,422.9 L316.1,420.7 L316.7,418.5 L316.9,416.3 L316.7,414.0 L316.2,411.8 L316.1,409.5 L315.8,407.3 L315.3,405.0 L315.3,402.8 L315.8,400.6 L316.3,398.4 L316.4,396.2 L316.6,393.9 L316.7,391.7 L316.5,389.5 L316.1,387.2 L315.7,385.0 L315.5,382.8 L315.3,380.5 L309.6,378.0Z" fill="#495d31"/>
<ellipse cx="304.7" cy="385.2" rx="4.0" ry="4.5" fill="#6d8148" opacity="0.22" transform="rotate(-25 304.7 385.2)"/>
<ellipse cx="309.7" cy="389.1" rx="2.4" ry="2.6" fill="#3a4c26" opacity="0.28"/>
<ellipse cx="312.3" cy="393.0" rx="4.0" ry="4.5" fill="#6d8148" opacity="0.22" transform="rotate(25 312.3 393.0)"/>
<ellipse cx="307.3" cy="396.5" rx="2.4" ry="2.6" fill="#3a4c26" opacity="0.28"/>
<ellipse cx="304.0" cy="400.1" rx="4.0" ry="4.5" fill="#6d8148" opacity="0.22" transform="rotate(-25 304.0 400.1)"/>
<ellipse cx="309.0" cy="404.0" rx="2.4" ry="2.6" fill="#3a4c26" opacity="0.28"/>
<ellipse cx="311.7" cy="407.8" rx="4.0" ry="4.5" fill="#6d8148" opacity="0.22" transform="rotate(25 311.7 407.8)"/>
<ellipse cx="306.7" cy="411.4" rx="2.4" ry="2.6" fill="#3a4c26" opacity="0.28"/>
<ellipse cx="303.3" cy="414.9" rx="4.0" ry="4.5" fill="#6d8148" opacity="0.22" transform="rotate(-25 303.3 414.9)"/>
<ellipse cx="308.3" cy="418.8" rx="2.4" ry="2.6" fill="#3a4c26" opacity="0.28"/>
<ellipse cx="311.0" cy="422.7" rx="4.0" ry="4.5" fill="#6d8148" opacity="0.22" transform="rotate(25 311.0 422.7)"/>
<ellipse cx="306.0" cy="426.2" rx="2.4" ry="2.6" fill="#3a4c26" opacity="0.28"/>
<ellipse cx="302.7" cy="429.7" rx="4.0" ry="4.5" fill="#6d8148" opacity="0.22" transform="rotate(-25 302.7 429.7)"/>
<ellipse cx="307.7" cy="433.6" rx="2.4" ry="2.6" fill="#3a4c26" opacity="0.28"/>
<ellipse cx="310.3" cy="437.5" rx="4.0" ry="4.5" fill="#6d8148" opacity="0.22" transform="rotate(25 310.3 437.5)"/>
<ellipse cx="305.3" cy="441.0" rx="2.4" ry="2.6" fill="#3a4c26" opacity="0.28"/>
<ellipse cx="302.0" cy="444.6" rx="4.0" ry="4.5" fill="#6d8148" opacity="0.22" transform="rotate(-25 302.0 444.6)"/>
<ellipse cx="307.0" cy="448.5" rx="2.4" ry="2.6" fill="#3a4c26" opacity="0.28"/>
<ellipse cx="309.7" cy="452.3" rx="4.0" ry="4.5" fill="#6d8148" opacity="0.22" transform="rotate(25 309.7 452.3)"/>
<ellipse cx="304.7" cy="455.9" rx="2.4" ry="2.6" fill="#3a4c26" opacity="0.28"/>
<ellipse cx="301.3" cy="459.4" rx="4.0" ry="4.5" fill="#6d8148" opacity="0.22" transform="rotate(-25 301.3 459.4)"/>
<ellipse cx="306.3" cy="463.3" rx="2.4" ry="2.6" fill="#3a4c26" opacity="0.28"/>
<rect x="295.5" y="375.5" width="25" height="93" fill="none" stroke="#e45555" stroke-width="1.3"/>
<path d="M381.0,446.0 C381.2,448.7 381.5,457.0 382.0,462.0 C382.5,467.0 383.3,471.0 384.0,476.0 C384.7,481.0 385.7,489.3 386.0,492.0" stroke="#4f6f86" stroke-width="3" fill="none" stroke-linecap="round"/>
<path d="M378.5,446.0 L383.5,446.0 L383.3,462.0 L380.7,462.0Z" fill="#70906c"/>
<g filter="url(#bl2)">
<line x1="376.0" y1="364.0" x2="371.2" y2="324.3" stroke="#b4cbc2" stroke-width="3" opacity="0.75" stroke-linecap="round"/>
<line x1="378.0" y1="364.0" x2="374.7" y2="309.1" stroke="#c4d8d0" stroke-width="2.6" opacity="0.65" stroke-linecap="round"/>
<line x1="387.0" y1="364.0" x2="389.4" y2="334.1" stroke="#c4d8d0" stroke-width="2.6" opacity="0.6" stroke-linecap="round"/>
<line x1="374.0" y1="364.0" x2="367.6" y2="332.6" stroke="#b4cbc2" stroke-width="2.6" opacity="0.7" stroke-linecap="round"/>
<line x1="384.0" y1="364.0" x2="384.7" y2="330.0" stroke="#a9c0b4" stroke-width="2.6" opacity="0.7" stroke-linecap="round"/>
<line x1="372.0" y1="364.0" x2="363.7" y2="337.3" stroke="#c4d8d0" stroke-width="2.4" opacity="0.55" stroke-linecap="round"/>
<line x1="373.4" y1="360.0" x2="366.6" y2="398.0" stroke="#bcd0c8" stroke-width="3" opacity="0.6"/>
<line x1="380.0" y1="361.0" x2="379.3" y2="337.0" stroke="#7d957f" stroke-width="2.8" opacity="0.85" stroke-linecap="round"/>
<line x1="383.5" y1="361.0" x2="384.2" y2="339.0" stroke="#7d957f" stroke-width="2.8" opacity="0.85" stroke-linecap="round"/>
</g>
<path d="M382.4,356.0 L375.8,358.3 L374.2,360.6 L373.3,362.9 L373.9,365.2 L374.9,367.5 L375.0,369.9 L374.7,372.2 L374.3,374.5 L374.1,376.8 L373.9,379.2 L373.7,381.5 L373.4,383.8 L372.5,386.1 L371.8,388.4 L371.6,390.8 L371.3,393.1 L371.0,395.4 L370.9,397.7 L370.7,400.1 L370.6,402.4 L371.2,404.7 L372.5,407.1 L372.9,409.4 L372.9,411.7 L372.8,414.0 L372.7,416.4 L371.8,418.7 L370.8,421.0 L370.6,423.3 L371.1,425.6 L371.7,428.0 L371.7,430.3 L371.4,432.6 L371.1,434.9 L371.1,437.3 L370.8,439.6 L370.8,441.9 L371.4,444.2 L372.6,446.6 L380.9,449.0 L381.3,449.0 L389.6,446.8 L391.0,444.5 L391.6,442.1 L392.0,439.8 L392.2,437.5 L392.3,435.2 L392.0,432.8 L391.6,430.5 L391.5,428.2 L391.5,425.9 L391.4,423.5 L391.4,421.2 L391.9,418.9 L392.2,416.6 L392.1,414.2 L391.7,411.9 L391.4,409.6 L391.5,407.3 L391.8,404.9 L392.0,402.6 L391.5,400.3 L390.6,397.9 L390.2,395.6 L390.9,393.3 L391.9,391.0 L392.2,388.7 L391.8,386.3 L391.4,384.0 L391.2,381.7 L390.8,379.3 L390.4,377.0 L390.4,374.7 L390.8,372.4 L391.0,370.0 L390.5,367.7 L389.1,365.4 L387.9,363.0 L387.6,360.7 L387.4,358.4 L381.5,356.0Z" fill="#e6e9f3" stroke="#3a30a8" stroke-width="1.4" stroke-linejoin="round"/>
<path d="M382.4,356.0 L377.0,358.3 L376.0,360.6 L375.5,362.9 L375.3,365.2 L375.3,367.6 L375.2,369.9 L374.3,372.2 L373.4,374.5 L373.2,376.8 L373.3,379.2 L373.5,381.5 L373.5,383.8 L373.6,386.1 L373.7,388.5 L373.5,390.8 L373.1,393.1 L372.7,395.4 L372.8,397.8 L373.0,400.1 L373.1,402.4 L372.9,404.7 L372.7,407.1 L372.6,409.4 L372.5,411.7 L372.4,414.0 L372.3,416.4 L372.8,418.7 L373.3,421.0 L373.3,423.3 L372.5,425.7 L371.8,428.0 L371.8,430.3 L372.5,432.6 L373.1,435.0 L373.3,437.3 L373.7,439.6 L374.2,442.0 L374.1,444.3 L373.7,446.6 L380.0,449.0 L382.1,449.0 L388.6,446.8 L388.5,444.4 L388.5,442.1 L389.5,439.8 L390.7,437.5 L391.1,435.2 L391.0,432.8 L390.9,430.5 L390.8,428.2 L390.7,425.9 L390.5,423.5 L390.3,421.2 L389.5,418.9 L388.8,416.5 L389.0,414.2 L390.0,411.9 L390.7,409.6 L390.5,407.2 L390.2,404.9 L389.9,402.6 L389.6,400.3 L388.8,397.9 L388.5,395.6 L388.7,393.3 L388.9,391.0 L388.9,388.6 L389.5,386.3 L390.2,384.0 L390.4,381.7 L390.3,379.3 L390.2,377.0 L390.0,374.7 L389.1,372.4 L388.3,370.0 L388.2,367.7 L388.2,365.4 L388.0,363.0 L387.6,360.7 L386.9,358.4 L381.6,356.0Z" fill="#495d31"/>
<ellipse cx="378.1" cy="363.1" rx="3.8" ry="4.3" fill="#6d8148" opacity="0.22" transform="rotate(-25 378.1 363.1)"/>
<ellipse cx="382.9" cy="366.7" rx="2.3" ry="2.5" fill="#3a4c26" opacity="0.28"/>
<ellipse cx="385.6" cy="370.3" rx="3.8" ry="4.3" fill="#6d8148" opacity="0.22" transform="rotate(25 385.6 370.3)"/>
<ellipse cx="380.9" cy="373.9" rx="2.3" ry="2.5" fill="#3a4c26" opacity="0.28"/>
<ellipse cx="378.0" cy="377.4" rx="3.8" ry="4.3" fill="#6d8148" opacity="0.22" transform="rotate(-25 378.0 377.4)"/>
<ellipse cx="382.7" cy="381.0" rx="2.3" ry="2.5" fill="#3a4c26" opacity="0.28"/>
<ellipse cx="385.5" cy="384.7" rx="3.8" ry="4.3" fill="#6d8148" opacity="0.22" transform="rotate(25 385.5 384.7)"/>
<ellipse cx="380.7" cy="388.2" rx="2.3" ry="2.5" fill="#3a4c26" opacity="0.28"/>
<ellipse cx="377.8" cy="391.7" rx="3.8" ry="4.3" fill="#6d8148" opacity="0.22" transform="rotate(-25 377.8 391.7)"/>
<ellipse cx="382.6" cy="395.3" rx="2.3" ry="2.5" fill="#3a4c26" opacity="0.28"/>
<ellipse cx="385.3" cy="399.0" rx="3.8" ry="4.3" fill="#6d8148" opacity="0.22" transform="rotate(25 385.3 399.0)"/>
<ellipse cx="380.6" cy="402.5" rx="2.3" ry="2.5" fill="#3a4c26" opacity="0.28"/>
<ellipse cx="377.7" cy="406.0" rx="3.8" ry="4.3" fill="#6d8148" opacity="0.22" transform="rotate(-25 377.7 406.0)"/>
<ellipse cx="382.4" cy="409.7" rx="2.3" ry="2.5" fill="#3a4c26" opacity="0.28"/>
<ellipse cx="385.2" cy="413.3" rx="3.8" ry="4.3" fill="#6d8148" opacity="0.22" transform="rotate(25 385.2 413.3)"/>
<ellipse cx="380.4" cy="416.8" rx="2.3" ry="2.5" fill="#3a4c26" opacity="0.28"/>
<ellipse cx="377.5" cy="420.3" rx="3.8" ry="4.3" fill="#6d8148" opacity="0.22" transform="rotate(-25 377.5 420.3)"/>
<ellipse cx="382.3" cy="424.0" rx="2.3" ry="2.5" fill="#3a4c26" opacity="0.28"/>
<ellipse cx="385.0" cy="427.6" rx="3.8" ry="4.3" fill="#6d8148" opacity="0.22" transform="rotate(25 385.0 427.6)"/>
<ellipse cx="380.3" cy="431.1" rx="2.3" ry="2.5" fill="#3a4c26" opacity="0.28"/>
<ellipse cx="377.4" cy="434.7" rx="3.8" ry="4.3" fill="#6d8148" opacity="0.22" transform="rotate(-25 377.4 434.7)"/>
<ellipse cx="382.1" cy="438.3" rx="2.3" ry="2.5" fill="#3a4c26" opacity="0.28"/>
<ellipse cx="384.9" cy="441.9" rx="3.8" ry="4.3" fill="#6d8148" opacity="0.22" transform="rotate(25 384.9 441.9)"/>
<ellipse cx="380.1" cy="445.4" rx="2.3" ry="2.5" fill="#3a4c26" opacity="0.28"/>
<rect x="367.5" y="353.5" width="27" height="97" fill="none" stroke="#e45555" stroke-width="1.3"/>
<path d="M456.0,449.0 C456.0,451.5 455.8,459.2 456.0,464.0 C456.2,468.8 456.7,473.3 457.0,478.0 C457.3,482.7 457.8,489.7 458.0,492.0" stroke="#4f6f86" stroke-width="3" fill="none" stroke-linecap="round"/>
<path d="M453.5,449.0 L458.5,449.0 L457.3,464.0 L454.7,464.0Z" fill="#70906c"/>
<g filter="url(#bl2)">
<line x1="452.0" y1="361.0" x2="447.2" y2="321.3" stroke="#b4cbc2" stroke-width="3" opacity="0.75" stroke-linecap="round"/>
<line x1="454.0" y1="361.0" x2="450.7" y2="306.1" stroke="#c4d8d0" stroke-width="2.6" opacity="0.65" stroke-linecap="round"/>
<line x1="463.0" y1="361.0" x2="465.4" y2="331.1" stroke="#c4d8d0" stroke-width="2.6" opacity="0.6" stroke-linecap="round"/>
<line x1="450.0" y1="361.0" x2="443.6" y2="329.6" stroke="#b4cbc2" stroke-width="2.6" opacity="0.7" stroke-linecap="round"/>
<line x1="460.0" y1="361.0" x2="460.7" y2="327.0" stroke="#a9c0b4" stroke-width="2.6" opacity="0.7" stroke-linecap="round"/>
<line x1="448.0" y1="361.0" x2="439.7" y2="334.3" stroke="#c4d8d0" stroke-width="2.4" opacity="0.55" stroke-linecap="round"/>
<line x1="449.4" y1="357.0" x2="442.6" y2="395.0" stroke="#bcd0c8" stroke-width="3" opacity="0.6"/>
<line x1="456.0" y1="358.0" x2="455.3" y2="334.0" stroke="#7d957f" stroke-width="2.8" opacity="0.85" stroke-linecap="round"/>
<line x1="459.5" y1="358.0" x2="460.2" y2="336.0" stroke="#7d957f" stroke-width="2.8" opacity="0.85" stroke-linecap="round"/>
</g>
<path d="M458.8,353.0 L452.6,355.4 L451.8,357.8 L451.2,360.3 L450.4,362.8 L449.5,365.2 L449.1,367.7 L449.5,370.2 L450.2,372.7 L450.2,375.1 L450.0,377.6 L449.8,380.1 L449.5,382.5 L448.4,385.0 L447.4,387.4 L447.2,389.9 L447.1,392.4 L447.0,394.9 L447.2,397.4 L448.0,399.8 L448.4,402.3 L448.3,404.8 L448.2,407.3 L448.1,409.7 L448.1,412.2 L448.1,414.7 L448.0,417.2 L447.0,419.6 L445.9,422.1 L445.7,424.6 L446.2,427.0 L446.7,429.5 L446.8,432.0 L446.9,434.5 L447.1,437.0 L446.9,439.4 L445.9,441.9 L445.5,444.4 L446.4,446.9 L448.5,449.4 L457.1,452.0 L456.7,452.0 L464.6,449.7 L465.1,447.2 L465.5,444.8 L465.9,442.3 L466.1,439.8 L466.3,437.4 L466.1,434.9 L465.8,432.4 L465.8,429.9 L466.5,427.5 L467.1,425.0 L467.3,422.5 L467.7,420.0 L468.1,417.6 L467.8,415.1 L466.7,412.6 L466.0,410.1 L466.0,407.6 L466.0,405.2 L466.0,402.7 L465.7,400.2 L465.3,397.7 L465.1,395.2 L465.9,392.8 L467.1,390.3 L467.4,387.9 L467.0,385.4 L466.4,382.9 L466.3,380.4 L466.7,377.9 L467.1,375.5 L467.0,373.0 L466.3,370.5 L465.7,368.0 L465.8,365.5 L466.4,363.1 L466.6,360.6 L465.8,358.1 L464.0,355.6 L457.3,353.0Z" fill="#e6e9f3" stroke="#3a30a8" stroke-width="1.4" stroke-linejoin="round"/>
<path d="M456.9,353.0 L452.1,355.4 L452.4,357.8 L452.4,360.3 L452.0,362.8 L451.7,365.3 L451.4,367.7 L450.3,370.2 L449.1,372.6 L448.9,375.1 L449.7,377.6 L450.5,380.1 L450.5,382.6 L450.5,385.0 L450.4,387.5 L450.0,390.0 L449.1,392.4 L448.4,394.9 L448.4,397.4 L448.7,399.9 L448.7,402.3 L448.5,404.8 L448.1,407.3 L447.8,409.7 L448.1,412.2 L448.5,414.7 L448.5,417.2 L448.7,419.7 L449.0,422.1 L449.0,424.6 L448.3,427.1 L447.6,429.5 L447.5,432.0 L447.4,434.5 L447.4,437.0 L447.4,439.4 L447.5,441.9 L447.7,444.4 L448.2,446.9 L449.2,449.4 L456.3,452.0 L455.0,452.0 L462.2,449.6 L463.2,447.2 L463.7,444.7 L464.2,442.3 L464.6,439.8 L464.8,437.3 L465.3,434.9 L465.8,432.4 L466.0,429.9 L466.3,427.4 L466.6,425.0 L466.5,422.5 L465.9,420.0 L465.4,417.5 L465.2,415.0 L464.8,412.6 L464.5,410.1 L464.5,407.6 L464.6,405.1 L464.6,402.7 L464.8,400.2 L465.1,397.7 L465.2,395.2 L464.9,392.8 L464.4,390.3 L464.3,387.8 L464.7,385.3 L465.1,382.9 L465.2,380.4 L465.2,377.9 L465.1,375.4 L465.2,373.0 L465.6,370.5 L465.9,368.0 L465.5,365.5 L464.3,363.0 L463.4,360.5 L463.0,358.1 L462.2,355.6 L456.8,353.0Z" fill="#495d31"/>
<ellipse cx="454.1" cy="360.0" rx="3.8" ry="4.2" fill="#6d8148" opacity="0.22" transform="rotate(-25 454.1 360.0)"/>
<ellipse cx="458.8" cy="363.6" rx="2.3" ry="2.5" fill="#3a4c26" opacity="0.28"/>
<ellipse cx="461.5" cy="367.2" rx="3.8" ry="4.2" fill="#6d8148" opacity="0.22" transform="rotate(25 461.5 367.2)"/>
<ellipse cx="456.8" cy="370.7" rx="2.3" ry="2.5" fill="#3a4c26" opacity="0.28"/>
<ellipse cx="453.8" cy="374.1" rx="3.8" ry="4.2" fill="#6d8148" opacity="0.22" transform="rotate(-25 453.8 374.1)"/>
<ellipse cx="458.5" cy="377.8" rx="2.3" ry="2.5" fill="#3a4c26" opacity="0.28"/>
<ellipse cx="461.2" cy="381.4" rx="3.8" ry="4.2" fill="#6d8148" opacity="0.22" transform="rotate(25 461.2 381.4)"/>
<ellipse cx="456.5" cy="384.8" rx="2.3" ry="2.5" fill="#3a4c26" opacity="0.28"/>
<ellipse cx="453.5" cy="388.3" rx="3.8" ry="4.2" fill="#6d8148" opacity="0.22" transform="rotate(-25 453.5 388.3)"/>
<ellipse cx="458.2" cy="391.9" rx="2.3" ry="2.5" fill="#3a4c26" opacity="0.28"/>
<ellipse cx="460.9" cy="395.5" rx="3.8" ry="4.2" fill="#6d8148" opacity="0.22" transform="rotate(25 460.9 395.5)"/>
<ellipse cx="456.2" cy="399.0" rx="2.3" ry="2.5" fill="#3a4c26" opacity="0.28"/>
<ellipse cx="453.2" cy="402.4" rx="3.8" ry="4.2" fill="#6d8148" opacity="0.22" transform="rotate(-25 453.2 402.4)"/>
<ellipse cx="457.9" cy="406.0" rx="2.3" ry="2.5" fill="#3a4c26" opacity="0.28"/>
<ellipse cx="460.7" cy="409.6" rx="3.8" ry="4.2" fill="#6d8148" opacity="0.22" transform="rotate(25 460.7 409.6)"/>
<ellipse cx="455.9" cy="413.1" rx="2.3" ry="2.5" fill="#3a4c26" opacity="0.28"/>
<ellipse cx="452.9" cy="416.6" rx="3.8" ry="4.2" fill="#6d8148" opacity="0.22" transform="rotate(-25 452.9 416.6)"/>
<ellipse cx="457.7" cy="420.2" rx="2.3" ry="2.5" fill="#3a4c26" opacity="0.28"/>
<ellipse cx="460.4" cy="423.8" rx="3.8" ry="4.2" fill="#6d8148" opacity="0.22" transform="rotate(25 460.4 423.8)"/>
<ellipse cx="455.6" cy="427.3" rx="2.3" ry="2.5" fill="#3a4c26" opacity="0.28"/>
<ellipse cx="452.6" cy="430.7" rx="3.8" ry="4.2" fill="#6d8148" opacity="0.22" transform="rotate(-25 452.6 430.7)"/>
<ellipse cx="457.4" cy="434.3" rx="2.3" ry="2.5" fill="#3a4c26" opacity="0.28"/>
<ellipse cx="460.1" cy="437.9" rx="3.8" ry="4.2" fill="#6d8148" opacity="0.22" transform="rotate(25 460.1 437.9)"/>
<ellipse cx="455.3" cy="441.4" rx="2.3" ry="2.5" fill="#3a4c26" opacity="0.28"/>
<ellipse cx="452.3" cy="444.9" rx="3.8" ry="4.2" fill="#6d8148" opacity="0.22" transform="rotate(-25 452.3 444.9)"/>
<ellipse cx="457.1" cy="448.5" rx="2.3" ry="2.5" fill="#3a4c26" opacity="0.28"/>
<rect x="446.5" y="350.5" width="22" height="102" fill="none" stroke="#e45555" stroke-width="1.3"/>
<path d="M543.0,446.0 C543.0,448.7 542.7,457.0 543.0,462.0 C543.3,467.0 544.5,471.0 545.0,476.0 C545.5,481.0 545.8,489.3 546.0,492.0" stroke="#4f6f86" stroke-width="3" fill="none" stroke-linecap="round"/>
<path d="M540.5,446.0 L545.5,446.0 L544.3,462.0 L541.7,462.0Z" fill="#70906c"/>
<g filter="url(#bl2)">
<line x1="537.0" y1="364.0" x2="532.2" y2="324.3" stroke="#b4cbc2" stroke-width="3" opacity="0.75" stroke-linecap="round"/>
<line x1="539.0" y1="364.0" x2="535.7" y2="309.1" stroke="#c4d8d0" stroke-width="2.6" opacity="0.65" stroke-linecap="round"/>
<line x1="548.0" y1="364.0" x2="550.4" y2="334.1" stroke="#c4d8d0" stroke-width="2.6" opacity="0.6" stroke-linecap="round"/>
<line x1="535.0" y1="364.0" x2="528.6" y2="332.6" stroke="#b4cbc2" stroke-width="2.6" opacity="0.7" stroke-linecap="round"/>
<line x1="545.0" y1="364.0" x2="545.7" y2="330.0" stroke="#a9c0b4" stroke-width="2.6" opacity="0.7" stroke-linecap="round"/>
<line x1="533.0" y1="364.0" x2="524.7" y2="337.3" stroke="#c4d8d0" stroke-width="2.4" opacity="0.55" stroke-linecap="round"/>
<line x1="534.5" y1="360.0" x2="527.5" y2="398.0" stroke="#bcd0c8" stroke-width="3" opacity="0.6"/>
<line x1="541.0" y1="361.0" x2="540.3" y2="337.0" stroke="#7d957f" stroke-width="2.8" opacity="0.85" stroke-linecap="round"/>
<line x1="544.5" y1="361.0" x2="545.2" y2="339.0" stroke="#7d957f" stroke-width="2.8" opacity="0.85" stroke-linecap="round"/>
</g>
<path d="M544.5,356.0 L537.8,358.3 L536.0,360.6 L535.1,363.0 L534.7,365.3 L534.4,367.6 L534.3,369.9 L534.4,372.3 L534.7,374.6 L534.7,376.9 L534.9,379.2 L535.0,381.6 L535.0,383.9 L534.9,386.2 L534.9,388.6 L534.7,390.9 L534.2,393.2 L533.9,395.5 L533.9,397.9 L534.1,400.2 L534.2,402.5 L533.9,404.8 L533.4,407.1 L533.2,409.5 L532.6,411.8 L531.7,414.1 L531.5,416.4 L532.0,418.8 L532.7,421.1 L532.8,423.4 L532.4,425.8 L532.0,428.1 L532.1,430.4 L532.9,432.7 L533.6,435.1 L533.6,437.4 L533.3,439.7 L533.2,442.0 L534.0,444.4 L535.5,446.7 L543.9,449.0 L542.3,449.0 L550.9,446.7 L552.9,444.4 L553.8,442.0 L553.4,439.7 L552.5,437.4 L552.3,435.1 L553.1,432.7 L554.0,430.4 L554.0,428.1 L552.9,425.8 L551.8,423.4 L551.8,421.1 L552.6,418.8 L553.3,416.4 L553.1,414.1 L552.2,411.8 L551.6,409.5 L551.7,407.1 L552.1,404.8 L552.3,402.5 L552.6,400.2 L553.2,397.9 L553.4,395.5 L552.9,393.2 L552.3,390.9 L552.0,388.6 L551.4,386.2 L550.8,383.9 L550.6,381.6 L551.1,379.2 L551.6,376.9 L551.6,374.6 L551.7,372.3 L551.7,369.9 L551.4,367.6 L550.8,365.3 L550.2,363.0 L549.9,360.6 L549.7,358.3 L543.8,356.0Z" fill="#e6e9f3" stroke="#3a30a8" stroke-width="1.4" stroke-linejoin="round"/>
<path d="M543.6,356.0 L538.4,358.3 L538.0,360.6 L537.7,363.0 L537.2,365.3 L536.7,367.6 L536.4,369.9 L536.4,372.3 L536.5,374.6 L536.4,376.9 L536.0,379.2 L535.7,381.6 L535.6,383.9 L535.2,386.2 L534.9,388.6 L534.8,390.9 L534.3,393.2 L534.0,395.5 L534.3,397.9 L535.0,400.2 L535.3,402.5 L534.8,404.8 L533.8,407.1 L533.4,409.5 L534.2,411.8 L535.3,414.1 L535.6,416.4 L535.4,418.8 L535.2,421.1 L535.1,423.4 L534.9,425.8 L534.6,428.1 L534.5,430.4 L534.5,432.7 L534.5,435.1 L534.5,437.4 L534.2,439.7 L534.1,442.0 L534.5,444.4 L535.2,446.7 L542.1,449.0 L544.2,449.0 L550.6,446.7 L550.3,444.4 L550.3,442.0 L550.6,439.7 L550.7,437.4 L550.8,435.1 L551.4,432.7 L552.0,430.4 L552.1,428.1 L552.0,425.8 L551.9,423.4 L551.9,421.1 L552.2,418.8 L552.4,416.4 L552.4,414.1 L552.5,411.8 L552.6,409.5 L552.1,407.1 L551.0,404.8 L550.4,402.5 L550.4,400.2 L550.5,397.9 L550.5,395.5 L550.6,393.2 L550.7,390.9 L550.8,388.6 L551.1,386.2 L551.5,383.9 L551.5,381.6 L551.0,379.2 L550.4,376.9 L550.2,374.6 L549.7,372.3 L549.2,369.9 L549.3,367.6 L550.0,365.3 L550.3,363.0 L549.9,360.6 L549.4,358.3 L544.2,356.0Z" fill="#495d31"/>
<ellipse cx="539.2" cy="363.2" rx="3.8" ry="4.3" fill="#6d8148" opacity="0.22" transform="rotate(-25 539.2 363.2)"/>
<ellipse cx="544.0" cy="366.7" rx="2.3" ry="2.5" fill="#3a4c26" opacity="0.28"/>
<ellipse cx="546.8" cy="370.3" rx="3.8" ry="4.3" fill="#6d8148" opacity="0.22" transform="rotate(25 546.8 370.3)"/>
<ellipse cx="542.0" cy="373.9" rx="2.3" ry="2.5" fill="#3a4c26" opacity="0.28"/>
<ellipse cx="539.2" cy="377.5" rx="3.8" ry="4.3" fill="#6d8148" opacity="0.22" transform="rotate(-25 539.2 377.5)"/>
<ellipse cx="544.0" cy="381.0" rx="2.3" ry="2.5" fill="#3a4c26" opacity="0.28"/>
<ellipse cx="546.8" cy="384.6" rx="3.8" ry="4.3" fill="#6d8148" opacity="0.22" transform="rotate(25 546.8 384.6)"/>
<ellipse cx="542.0" cy="388.2" rx="2.3" ry="2.5" fill="#3a4c26" opacity="0.28"/>
<ellipse cx="539.2" cy="391.8" rx="3.8" ry="4.3" fill="#6d8148" opacity="0.22" transform="rotate(-25 539.2 391.8)"/>
<ellipse cx="544.0" cy="395.3" rx="2.3" ry="2.5" fill="#3a4c26" opacity="0.28"/>
<ellipse cx="546.8" cy="398.9" rx="3.8" ry="4.3" fill="#6d8148" opacity="0.22" transform="rotate(25 546.8 398.9)"/>
<ellipse cx="542.0" cy="402.5" rx="2.3" ry="2.5" fill="#3a4c26" opacity="0.28"/>
<ellipse cx="539.2" cy="406.1" rx="3.8" ry="4.3" fill="#6d8148" opacity="0.22" transform="rotate(-25 539.2 406.1)"/>
<ellipse cx="544.0" cy="409.7" rx="2.3" ry="2.5" fill="#3a4c26" opacity="0.28"/>
<ellipse cx="546.8" cy="413.2" rx="3.8" ry="4.3" fill="#6d8148" opacity="0.22" transform="rotate(25 546.8 413.2)"/>
<ellipse cx="542.0" cy="416.8" rx="2.3" ry="2.5" fill="#3a4c26" opacity="0.28"/>
<ellipse cx="539.2" cy="420.4" rx="3.8" ry="4.3" fill="#6d8148" opacity="0.22" transform="rotate(-25 539.2 420.4)"/>
<ellipse cx="544.0" cy="424.0" rx="2.3" ry="2.5" fill="#3a4c26" opacity="0.28"/>
<ellipse cx="546.8" cy="427.5" rx="3.8" ry="4.3" fill="#6d8148" opacity="0.22" transform="rotate(25 546.8 427.5)"/>
<ellipse cx="542.0" cy="431.1" rx="2.3" ry="2.5" fill="#3a4c26" opacity="0.28"/>
<ellipse cx="539.2" cy="434.7" rx="3.8" ry="4.3" fill="#6d8148" opacity="0.22" transform="rotate(-25 539.2 434.7)"/>
<ellipse cx="544.0" cy="438.3" rx="2.3" ry="2.5" fill="#3a4c26" opacity="0.28"/>
<ellipse cx="546.8" cy="441.8" rx="3.8" ry="4.3" fill="#6d8148" opacity="0.22" transform="rotate(25 546.8 441.8)"/>
<ellipse cx="542.0" cy="445.4" rx="2.3" ry="2.5" fill="#3a4c26" opacity="0.28"/>
<rect x="530.5" y="353.5" width="26" height="97" fill="none" stroke="#e45555" stroke-width="1.3"/>
<path d="M603.0,451.0 C603.2,453.5 603.5,461.5 604.0,466.0 C604.5,470.5 605.3,473.7 606.0,478.0 C606.7,482.3 607.7,489.7 608.0,492.0" stroke="#4f6f86" stroke-width="3" fill="none" stroke-linecap="round"/>
<path d="M600.5,451.0 L605.5,451.0 L605.3,466.0 L602.7,466.0Z" fill="#70906c"/>
<g filter="url(#bl2)">
<line x1="593.0" y1="363.0" x2="588.2" y2="323.3" stroke="#b4cbc2" stroke-width="3" opacity="0.75" stroke-linecap="round"/>
<line x1="595.0" y1="363.0" x2="591.7" y2="308.1" stroke="#c4d8d0" stroke-width="2.6" opacity="0.65" stroke-linecap="round"/>
<line x1="604.0" y1="363.0" x2="606.4" y2="333.1" stroke="#c4d8d0" stroke-width="2.6" opacity="0.6" stroke-linecap="round"/>
<line x1="591.0" y1="363.0" x2="584.6" y2="331.6" stroke="#b4cbc2" stroke-width="2.6" opacity="0.7" stroke-linecap="round"/>
<line x1="601.0" y1="363.0" x2="601.7" y2="329.0" stroke="#a9c0b4" stroke-width="2.6" opacity="0.7" stroke-linecap="round"/>
<line x1="589.0" y1="363.0" x2="580.7" y2="336.3" stroke="#c4d8d0" stroke-width="2.4" opacity="0.55" stroke-linecap="round"/>
<line x1="589.5" y1="359.0" x2="582.5" y2="397.0" stroke="#bcd0c8" stroke-width="3" opacity="0.6"/>
<line x1="597.0" y1="360.0" x2="596.3" y2="336.0" stroke="#7d957f" stroke-width="2.8" opacity="0.85" stroke-linecap="round"/>
<line x1="600.5" y1="360.0" x2="601.2" y2="338.0" stroke="#7d957f" stroke-width="2.8" opacity="0.85" stroke-linecap="round"/>
</g>
<path d="M599.5,355.0 L592.7,357.7 L591.7,360.3 L591.2,362.8 L591.1,365.2 L591.2,367.7 L591.1,370.2 L590.3,372.7 L589.4,375.2 L589.2,377.7 L589.5,380.2 L589.8,382.6 L589.9,385.1 L590.1,387.6 L590.4,390.1 L590.3,392.5 L589.9,395.0 L589.6,397.5 L589.8,400.0 L590.2,402.5 L590.4,404.9 L590.3,407.4 L590.2,409.9 L590.2,412.4 L590.2,414.9 L590.2,417.3 L590.3,419.8 L590.9,422.3 L591.6,424.7 L591.7,427.2 L591.0,429.7 L590.3,432.2 L590.4,434.7 L591.3,437.1 L592.2,439.6 L592.5,442.0 L593.1,444.5 L593.8,446.9 L593.9,449.4 L593.7,451.9 L601.9,454.0 L604.2,453.9 L612.4,451.1 L612.2,448.7 L612.2,446.2 L613.2,443.7 L614.4,441.1 L614.7,438.7 L614.6,436.2 L614.3,433.7 L614.1,431.2 L613.8,428.8 L613.5,426.3 L613.1,423.8 L612.1,421.4 L611.2,419.0 L611.3,416.5 L612.3,414.0 L612.9,411.5 L612.6,409.0 L612.0,406.5 L611.6,404.1 L611.1,401.6 L610.1,399.2 L609.7,396.7 L609.7,394.2 L609.8,391.8 L609.7,389.3 L610.2,386.8 L610.9,384.3 L610.9,381.8 L610.6,379.3 L610.4,376.9 L610.0,374.4 L608.9,372.0 L607.9,369.5 L607.6,367.0 L607.4,364.6 L607.0,362.1 L606.4,359.7 L605.4,357.2 L598.6,355.0Z" fill="#e6e9f3" stroke="#3a30a8" stroke-width="1.4" stroke-linejoin="round"/>
<path d="M598.6,355.0 L593.2,357.7 L593.4,360.2 L593.4,362.7 L592.9,365.2 L592.4,367.7 L592.2,370.1 L592.5,372.6 L592.8,375.1 L592.8,377.6 L592.5,380.1 L592.2,382.5 L592.2,385.0 L592.5,387.5 L592.7,390.0 L592.7,392.4 L592.4,394.9 L592.2,397.4 L592.2,399.9 L592.0,402.4 L591.9,404.9 L591.8,407.3 L591.7,409.8 L591.6,412.3 L592.0,414.8 L592.4,417.2 L592.5,419.7 L592.0,422.2 L591.3,424.7 L591.4,427.2 L592.4,429.6 L593.5,432.1 L593.7,434.5 L593.6,437.0 L593.6,439.5 L593.6,442.0 L593.3,444.5 L593.3,447.0 L593.8,449.4 L594.7,451.9 L602.5,454.0 L602.8,454.0 L610.3,451.2 L611.0,448.7 L611.3,446.2 L611.4,443.7 L611.3,441.3 L611.2,438.8 L611.3,436.3 L611.4,433.8 L611.4,431.4 L611.3,428.9 L611.2,426.4 L611.2,423.9 L611.8,421.4 L612.3,418.9 L611.8,416.5 L610.4,414.0 L609.4,411.6 L609.4,409.1 L609.8,406.6 L609.9,404.1 L609.4,401.7 L608.7,399.2 L608.3,396.8 L608.4,394.3 L608.7,391.8 L608.6,389.3 L608.3,386.9 L608.0,384.4 L607.8,381.9 L607.4,379.5 L606.9,377.0 L606.7,374.5 L606.7,372.0 L606.5,369.6 L606.2,367.1 L605.7,364.6 L605.2,362.2 L604.7,359.7 L604.1,357.3 L598.2,355.0Z" fill="#495d31"/>
<ellipse cx="595.1" cy="362.2" rx="4.2" ry="4.2" fill="#6d8148" opacity="0.22" transform="rotate(-25 595.1 362.2)"/>
<ellipse cx="600.3" cy="365.6" rx="2.5" ry="2.5" fill="#3a4c26" opacity="0.28"/>
<ellipse cx="603.8" cy="369.0" rx="4.2" ry="4.2" fill="#6d8148" opacity="0.22" transform="rotate(25 603.8 369.0)"/>
<ellipse cx="598.5" cy="372.7" rx="2.5" ry="2.5" fill="#3a4c26" opacity="0.28"/>
<ellipse cx="595.7" cy="376.4" rx="4.2" ry="4.2" fill="#6d8148" opacity="0.22" transform="rotate(-25 595.7 376.4)"/>
<ellipse cx="600.9" cy="379.8" rx="2.5" ry="2.5" fill="#3a4c26" opacity="0.28"/>
<ellipse cx="604.3" cy="383.1" rx="4.2" ry="4.2" fill="#6d8148" opacity="0.22" transform="rotate(25 604.3 383.1)"/>
<ellipse cx="599.1" cy="386.8" rx="2.5" ry="2.5" fill="#3a4c26" opacity="0.28"/>
<ellipse cx="596.2" cy="390.5" rx="4.2" ry="4.2" fill="#6d8148" opacity="0.22" transform="rotate(-25 596.2 390.5)"/>
<ellipse cx="601.5" cy="393.9" rx="2.5" ry="2.5" fill="#3a4c26" opacity="0.28"/>
<ellipse cx="604.9" cy="397.3" rx="4.2" ry="4.2" fill="#6d8148" opacity="0.22" transform="rotate(25 604.9 397.3)"/>
<ellipse cx="599.7" cy="401.0" rx="2.5" ry="2.5" fill="#3a4c26" opacity="0.28"/>
<ellipse cx="596.8" cy="404.7" rx="4.2" ry="4.2" fill="#6d8148" opacity="0.22" transform="rotate(-25 596.8 404.7)"/>
<ellipse cx="602.0" cy="408.0" rx="2.5" ry="2.5" fill="#3a4c26" opacity="0.28"/>
<ellipse cx="605.5" cy="411.4" rx="4.2" ry="4.2" fill="#6d8148" opacity="0.22" transform="rotate(25 605.5 411.4)"/>
<ellipse cx="600.2" cy="415.1" rx="2.5" ry="2.5" fill="#3a4c26" opacity="0.28"/>
<ellipse cx="597.4" cy="418.8" rx="4.2" ry="4.2" fill="#6d8148" opacity="0.22" transform="rotate(-25 597.4 418.8)"/>
<ellipse cx="602.6" cy="422.2" rx="2.5" ry="2.5" fill="#3a4c26" opacity="0.28"/>
<ellipse cx="606.1" cy="425.5" rx="4.2" ry="4.2" fill="#6d8148" opacity="0.22" transform="rotate(25 606.1 425.5)"/>
<ellipse cx="600.8" cy="429.3" rx="2.5" ry="2.5" fill="#3a4c26" opacity="0.28"/>
<ellipse cx="597.9" cy="433.0" rx="4.2" ry="4.2" fill="#6d8148" opacity="0.22" transform="rotate(-25 597.9 433.0)"/>
<ellipse cx="603.2" cy="436.3" rx="2.5" ry="2.5" fill="#3a4c26" opacity="0.28"/>
<ellipse cx="606.6" cy="439.7" rx="4.2" ry="4.2" fill="#6d8148" opacity="0.22" transform="rotate(25 606.6 439.7)"/>
<ellipse cx="601.4" cy="443.4" rx="2.5" ry="2.5" fill="#3a4c26" opacity="0.28"/>
<ellipse cx="598.5" cy="447.1" rx="4.2" ry="4.2" fill="#6d8148" opacity="0.22" transform="rotate(-25 598.5 447.1)"/>
<ellipse cx="603.8" cy="450.5" rx="2.5" ry="2.5" fill="#3a4c26" opacity="0.28"/>
<rect x="585.5" y="352.5" width="28" height="104" fill="none" stroke="#e45555" stroke-width="1.3"/>
</g></g>
<rect x="16.7" y="153.7" width="618" height="179.9" fill="#fff" stroke="#bdbdbd" stroke-width="1.7"/>
<line x1="65" y1="289.3" x2="621" y2="289.3" stroke="#b0b0b0" stroke-width="1.1" />
<text x="55" y="294.0" font-family='"Liberation Sans", sans-serif' font-size="13.2" font-weight="normal" text-anchor="end" fill="#383838" >3</text>
<line x1="65" y1="264.68" x2="621" y2="264.68" stroke="#b0b0b0" stroke-width="1.1" />
<text x="55" y="269.38" font-family='"Liberation Sans", sans-serif' font-size="13.2" font-weight="normal" text-anchor="end" fill="#383838" >4</text>
<line x1="65" y1="240.06" x2="621" y2="240.06" stroke="#b0b0b0" stroke-width="1.1" />
<text x="55" y="244.76" font-family='"Liberation Sans", sans-serif' font-size="13.2" font-weight="normal" text-anchor="end" fill="#383838" >5</text>
<line x1="65" y1="215.44" x2="621" y2="215.44" stroke="#b0b0b0" stroke-width="1.1" />
<text x="55" y="220.14" font-family='"Liberation Sans", sans-serif' font-size="13.2" font-weight="normal" text-anchor="end" fill="#383838" >6</text>
<line x1="65" y1="190.82" x2="621" y2="190.82" stroke="#b0b0b0" stroke-width="1.1" />
<text x="55" y="195.51999999999998" font-family='"Liberation Sans", sans-serif' font-size="13.2" font-weight="normal" text-anchor="end" fill="#383838" >7</text>
<line x1="65" y1="166.2" x2="621" y2="166.2" stroke="#b0b0b0" stroke-width="1.1" />
<text x="55" y="170.89999999999998" font-family='"Liberation Sans", sans-serif' font-size="13.2" font-weight="normal" text-anchor="end" fill="#383838" >8</text>
<line x1="70" y1="166.2" x2="70" y2="294" stroke="#b0b0b0" stroke-width="1.1" />
<line x1="70.0" y1="289.3" x2="70.0" y2="294.5" stroke="#b0b0b0" stroke-width="1.1" />
<text x="70.0" y="313.3" font-family='"Liberation Sans", sans-serif' font-size="13.2" font-weight="normal" text-anchor="middle" fill="#383838" >1</text>
<line x1="138.9" y1="289.3" x2="138.9" y2="294.5" stroke="#b0b0b0" stroke-width="1.1" />
<text x="138.9" y="313.3" font-family='"Liberation Sans", sans-serif' font-size="13.2" font-weight="normal" text-anchor="middle" fill="#383838" >2</text>
<line x1="207.8" y1="289.3" x2="207.8" y2="294.5" stroke="#b0b0b0" stroke-width="1.1" />
<text x="207.8" y="313.3" font-family='"Liberation Sans", sans-serif' font-size="13.2" font-weight="normal" text-anchor="middle" fill="#383838" >3</text>
<line x1="276.70000000000005" y1="289.3" x2="276.70000000000005" y2="294.5" stroke="#b0b0b0" stroke-width="1.1" />
<text x="276.70000000000005" y="313.3" font-family='"Liberation Sans", sans-serif' font-size="13.2" font-weight="normal" text-anchor="middle" fill="#383838" >4</text>
<line x1="345.6" y1="289.3" x2="345.6" y2="294.5" stroke="#b0b0b0" stroke-width="1.1" />
<text x="345.6" y="313.3" font-family='"Liberation Sans", sans-serif' font-size="13.2" font-weight="normal" text-anchor="middle" fill="#383838" >5</text>
<line x1="414.5" y1="289.3" x2="414.5" y2="294.5" stroke="#b0b0b0" stroke-width="1.1" />
<text x="414.5" y="313.3" font-family='"Liberation Sans", sans-serif' font-size="13.2" font-weight="normal" text-anchor="middle" fill="#383838" >6</text>
<line x1="483.40000000000003" y1="289.3" x2="483.40000000000003" y2="294.5" stroke="#b0b0b0" stroke-width="1.1" />
<text x="483.40000000000003" y="313.3" font-family='"Liberation Sans", sans-serif' font-size="13.2" font-weight="normal" text-anchor="middle" fill="#383838" >7</text>
<line x1="552.3000000000001" y1="289.3" x2="552.3000000000001" y2="294.5" stroke="#b0b0b0" stroke-width="1.1" />
<text x="552.3000000000001" y="313.3" font-family='"Liberation Sans", sans-serif' font-size="13.2" font-weight="normal" text-anchor="middle" fill="#383838" >8</text>
<line x1="621.2" y1="289.3" x2="621.2" y2="294.5" stroke="#b0b0b0" stroke-width="1.1" />
<text x="621.2" y="313.3" font-family='"Liberation Sans", sans-serif' font-size="13.2" font-weight="normal" text-anchor="middle" fill="#383838" >9</text>
<path d="M70.00,266.16 L76.03,262.32 L82.06,258.76 L88.09,255.47 L94.12,252.39 L100.14,249.51 L106.17,246.80 L112.20,244.24 L118.23,241.81 L124.26,239.51 L130.29,237.32 L136.32,235.22 L142.34,233.22 L148.37,231.30 L154.40,229.46 L160.43,227.69 L166.46,225.99 L172.49,224.34 L178.52,222.76 L184.55,221.22 L190.58,219.74 L196.60,218.30 L202.63,216.91 L208.66,215.56 L214.69,214.24 L220.72,212.97 L226.75,211.72 L232.78,210.51 L238.81,209.33 L244.83,208.18 L250.86,207.06 L256.89,205.97 L262.92,204.90 L268.95,203.85 L274.98,202.83 L281.01,201.83 L287.04,200.86 L293.06,199.90 L299.09,198.96 L305.12,198.04 L311.15,197.14 L317.18,196.26 L323.21,195.39 L329.24,194.54 L335.26,193.70 L341.29,192.88 L347.32,192.08 L353.35,191.28 L359.38,190.50 L365.41,189.74 L371.44,188.99 L377.47,188.24 L383.50,187.52 L389.52,186.80 L395.55,186.09 L401.58,185.39 L407.61,184.71 L413.64,184.03 L419.67,183.37 L425.70,182.71 L431.73,182.06 L437.75,181.43 L443.78,180.80 L449.81,180.18 L455.84,179.56 L461.87,178.96 L467.90,178.36 L473.93,177.77 L479.96,177.19 L485.98,176.62 L492.01,176.05 L498.04,175.49 L504.07,174.94 L510.10,174.39 L516.13,173.85 L522.16,173.32 L528.19,172.79 L534.21,172.27 L540.24,171.75 L546.27,171.24 L552.30,170.74" fill="none" stroke="#1a1a1a" stroke-width="1.6" stroke-linejoin="round"/>
<path d="M70.0,274.6748 L73.3,277.9748 L70.0,281.2748 L66.7,277.9748Z" fill="#4a7ebb"/>
<path d="M138.9,225.4348 L142.20000000000002,228.7348 L138.9,232.03480000000002 L135.6,228.7348Z" fill="#4a7ebb"/>
<path d="M207.8,199.82999999999998 L211.10000000000002,203.13 L207.8,206.43 L204.5,203.13Z" fill="#4a7ebb"/>
<path d="M276.70000000000005,195.3984 L280.00000000000006,198.69840000000002 L276.70000000000005,201.99840000000003 L273.40000000000003,198.69840000000002Z" fill="#4a7ebb"/>
<path d="M345.6,178.65679999999998 L348.90000000000003,181.9568 L345.6,185.2568 L342.3,181.9568Z" fill="#4a7ebb"/>
<path d="M414.5,188.2586 L417.8,191.5586 L414.5,194.85860000000002 L411.2,191.5586Z" fill="#4a7ebb"/>
<path d="M483.40000000000003,181.6112 L486.70000000000005,184.9112 L483.40000000000003,188.21120000000002 L480.1,184.9112Z" fill="#4a7ebb"/>
<path d="M552.3000000000001,171.517 L555.6,174.817 L552.3000000000001,178.11700000000002 L549.0000000000001,174.817Z" fill="#4a7ebb"/>
<text x="395.8" y="235.5" font-family='"Liberation Sans", sans-serif' font-size="12.5" font-weight="normal" text-anchor="start" fill="#383838" textLength="147.5" lengthAdjust="spacingAndGlyphs" >y = 1.864ln(x) + 3.9397</text>
<text x="431" y="253.8" font-family='"Liberation Sans", sans-serif' font-size="12.5" font-weight="normal" text-anchor="start" fill="#383838" textLength="75.5" lengthAdjust="spacingAndGlyphs" >R<tspan font-size="9" dy="-4.5">2</tspan><tspan dy="4.5"> = 0.9252</tspan></text>
<text x="307" y="328" font-family='"Liberation Sans", sans-serif' font-size="12.3" font-weight="bold" text-anchor="start" fill="#1a1a1a" textLength="74" lengthAdjust="spacingAndGlyphs" >Day Number</text>
<text x="0" y="0" font-family='"Liberation Serif", serif' font-size="14" font-weight="bold" text-anchor="middle" fill="#111" textLength="108" lengthAdjust="spacingAndGlyphs" transform="translate(41,227.6) rotate(-90)">Spike Area (cm²)</text>
<rect x="17.7" y="492.2" width="617" height="149.3" fill="#fff" stroke="#bdbdbd" stroke-width="1.7"/>
<line x1="17" y1="492.1" x2="635.5" y2="492.1" stroke="#8c8c8c" stroke-width="1.8" />
<line x1="17.5" y1="643.3" x2="635.5" y2="643.3" stroke="#c4c4c4" stroke-width="1.3" />
<line x1="85" y1="590.5" x2="618.5" y2="590.5" stroke="#b0b0b0" stroke-width="1.1" />
<text x="74.2" y="595.4" font-family='"Liberation Sans", sans-serif' font-size="14" font-weight="normal" text-anchor="end" fill="#383838" >3.5</text>
<line x1="85" y1="568.825" x2="618.5" y2="568.825" stroke="#b0b0b0" stroke-width="1.1" />
<text x="74.2" y="573.725" font-family='"Liberation Sans", sans-serif' font-size="14" font-weight="normal" text-anchor="end" fill="#383838" >4</text>
<line x1="85" y1="547.15" x2="618.5" y2="547.15" stroke="#b0b0b0" stroke-width="1.1" />
<text x="74.2" y="552.05" font-family='"Liberation Sans", sans-serif' font-size="14" font-weight="normal" text-anchor="end" fill="#383838" >4.5</text>
<line x1="85" y1="525.475" x2="618.5" y2="525.475" stroke="#b0b0b0" stroke-width="1.1" />
<text x="74.2" y="530.375" font-family='"Liberation Sans", sans-serif' font-size="14" font-weight="normal" text-anchor="end" fill="#383838" >5</text>
<line x1="85" y1="503.8" x2="618.5" y2="503.8" stroke="#b0b0b0" stroke-width="1.1" />
<text x="74.2" y="508.7" font-family='"Liberation Sans", sans-serif' font-size="14" font-weight="normal" text-anchor="end" fill="#383838" >5.5</text>
<line x1="90.5" y1="503.8" x2="90.5" y2="595.5" stroke="#b0b0b0" stroke-width="1.1" />
<line x1="90.5" y1="590.5" x2="90.5" y2="595.5" stroke="#b0b0b0" stroke-width="1.1" />
<text x="90.5" y="616" font-family='"Liberation Sans", sans-serif' font-size="13.8" font-weight="normal" text-anchor="middle" fill="#383838" >1</text>
<line x1="156.5" y1="590.5" x2="156.5" y2="595.5" stroke="#b0b0b0" stroke-width="1.1" />
<text x="156.5" y="616" font-family='"Liberation Sans", sans-serif' font-size="13.8" font-weight="normal" text-anchor="middle" fill="#383838" >2</text>
<line x1="222.5" y1="590.5" x2="222.5" y2="595.5" stroke="#b0b0b0" stroke-width="1.1" />
<text x="222.5" y="616" font-family='"Liberation Sans", sans-serif' font-size="13.8" font-weight="normal" text-anchor="middle" fill="#383838" >3</text>
<line x1="288.5" y1="590.5" x2="288.5" y2="595.5" stroke="#b0b0b0" stroke-width="1.1" />
<text x="288.5" y="616" font-family='"Liberation Sans", sans-serif' font-size="13.8" font-weight="normal" text-anchor="middle" fill="#383838" >4</text>
<line x1="354.5" y1="590.5" x2="354.5" y2="595.5" stroke="#b0b0b0" stroke-width="1.1" />
<text x="354.5" y="616" font-family='"Liberation Sans", sans-serif' font-size="13.8" font-weight="normal" text-anchor="middle" fill="#383838" >5</text>
<line x1="420.5" y1="590.5" x2="420.5" y2="595.5" stroke="#b0b0b0" stroke-width="1.1" />
<text x="420.5" y="616" font-family='"Liberation Sans", sans-serif' font-size="13.8" font-weight="normal" text-anchor="middle" fill="#383838" >6</text>
<line x1="486.5" y1="590.5" x2="486.5" y2="595.5" stroke="#b0b0b0" stroke-width="1.1" />
<text x="486.5" y="616" font-family='"Liberation Sans", sans-serif' font-size="13.8" font-weight="normal" text-anchor="middle" fill="#383838" >7</text>
<line x1="552.5" y1="590.5" x2="552.5" y2="595.5" stroke="#b0b0b0" stroke-width="1.1" />
<text x="552.5" y="616" font-family='"Liberation Sans", sans-serif' font-size="13.8" font-weight="normal" text-anchor="middle" fill="#383838" >8</text>
<line x1="618.5" y1="590.5" x2="618.5" y2="595.5" stroke="#b0b0b0" stroke-width="1.1" />
<text x="618.5" y="616" font-family='"Liberation Sans", sans-serif' font-size="13.8" font-weight="normal" text-anchor="middle" fill="#383838" >9</text>
<path d="M90.50,583.94 L96.27,581.31 L102.05,578.89 L107.82,576.65 L113.60,574.55 L119.38,572.59 L125.15,570.74 L130.93,569.00 L136.70,567.34 L142.48,565.77 L148.25,564.28 L154.02,562.85 L159.80,561.49 L165.58,560.18 L171.35,558.93 L177.12,557.72 L182.90,556.56 L188.67,555.44 L194.45,554.36 L200.23,553.31 L206.00,552.30 L211.77,551.32 L217.55,550.37 L223.33,549.45 L229.10,548.55 L234.88,547.68 L240.65,546.84 L246.42,546.01 L252.20,545.21 L257.98,544.43 L263.75,543.66 L269.52,542.92 L275.30,542.19 L281.08,541.48 L286.85,540.78 L292.62,540.10 L298.40,539.43 L304.17,538.78 L309.95,538.14 L315.72,537.51 L321.50,536.90 L327.28,536.30 L333.05,535.71 L338.83,535.13 L344.60,534.56 L350.38,534.00 L356.15,533.45 L361.93,532.91 L367.70,532.38 L373.47,531.86 L379.25,531.34 L385.03,530.84 L390.80,530.34 L396.57,529.85 L402.35,529.37 L408.12,528.90 L413.90,528.43 L419.68,527.97 L425.45,527.52 L431.22,527.07 L437.00,526.63 L442.78,526.19 L448.55,525.76 L454.32,525.34 L460.10,524.92 L465.88,524.51 L471.65,524.10 L477.43,523.70 L483.20,523.31 L488.97,522.92 L494.75,522.53 L500.53,522.15 L506.30,521.77 L512.08,521.40 L517.85,521.03 L523.62,520.67 L529.40,520.31 L535.17,519.95 L540.95,519.60 L546.72,519.25 L552.50,518.91" fill="none" stroke="#1a1a1a" stroke-width="1.6" stroke-linejoin="round"/>
<path d="M90.5,581.998 L93.8,585.298 L90.5,588.598 L87.2,585.298Z" fill="#4a7ebb"/>
<path d="M156.5,558.1555000000001 L159.8,561.4555 L156.5,564.7555 L153.2,561.4555Z" fill="#4a7ebb"/>
<path d="M222.5,546.8845000000001 L225.8,550.1845000000001 L222.5,553.4845 L219.2,550.1845000000001Z" fill="#4a7ebb"/>
<path d="M288.5,536.914 L291.8,540.2139999999999 L288.5,543.5139999999999 L285.2,540.2139999999999Z" fill="#4a7ebb"/>
<path d="M354.5,517.84 L357.8,521.14 L354.5,524.4399999999999 L351.2,521.14Z" fill="#4a7ebb"/>
<path d="M420.5,525.643 L423.8,528.943 L420.5,532.2429999999999 L417.2,528.943Z" fill="#4a7ebb"/>
<path d="M486.5,527.8105 L489.8,531.1105 L486.5,534.4105 L483.2,531.1105Z" fill="#4a7ebb"/>
<path d="M552.5,514.3720000000001 L555.8,517.672 L552.5,520.972 L549.2,517.672Z" fill="#4a7ebb"/>
<text x="425.5" y="567" font-family='"Liberation Sans", sans-serif' font-size="13" font-weight="normal" text-anchor="start" fill="#383838" textLength="168" lengthAdjust="spacingAndGlyphs" >y = 0.7214ln(x) + 3.6514</text>
<text x="469.5" y="585.5" font-family='"Liberation Sans", sans-serif' font-size="13" font-weight="normal" text-anchor="start" fill="#383838" textLength="80" lengthAdjust="spacingAndGlyphs" >R<tspan font-size="9.5" dy="-4.7">2</tspan><tspan dy="4.7"> = 0.9394</tspan></text>
<text x="310.5" y="634.5" font-family='"Liberation Sans", sans-serif' font-size="12.8" font-weight="bold" text-anchor="start" fill="#1a1a1a" textLength="87.5" lengthAdjust="spacingAndGlyphs" >Day Number</text>
<text x="0" y="0" font-family='"Liberation Serif", serif' font-size="14" font-weight="bold" text-anchor="middle" fill="#111" textLength="106" lengthAdjust="spacingAndGlyphs" transform="translate(45.3,560.8) rotate(-90)">Spike Area(cm²)</text>
<rect x="17.7" y="651.2" width="617" height="254.5" fill="#fff" stroke="#bdbdbd" stroke-width="1.7"/>
<line x1="65" y1="852.9" x2="597" y2="852.9" stroke="#b0b0b0" stroke-width="1.1" />
<text x="52.8" y="858.6999999999999" font-family='"Liberation Sans", sans-serif' font-size="16.2" font-weight="normal" text-anchor="end" fill="#383838" >3</text>
<line x1="65" y1="817.28" x2="597" y2="817.28" stroke="#b0b0b0" stroke-width="1.1" />
<text x="52.8" y="823.0799999999999" font-family='"Liberation Sans", sans-serif' font-size="16.2" font-weight="normal" text-anchor="end" fill="#383838" >4</text>
<line x1="65" y1="781.66" x2="597" y2="781.66" stroke="#b0b0b0" stroke-width="1.1" />
<text x="52.8" y="787.4599999999999" font-family='"Liberation Sans", sans-serif' font-size="16.2" font-weight="normal" text-anchor="end" fill="#383838" >5</text>
<line x1="65" y1="746.04" x2="597" y2="746.04" stroke="#b0b0b0" stroke-width="1.1" />
<text x="52.8" y="751.8399999999999" font-family='"Liberation Sans", sans-serif' font-size="16.2" font-weight="normal" text-anchor="end" fill="#383838" >6</text>
<line x1="65" y1="710.42" x2="597" y2="710.42" stroke="#b0b0b0" stroke-width="1.1" />
<text x="52.8" y="716.2199999999999" font-family='"Liberation Sans", sans-serif' font-size="16.2" font-weight="normal" text-anchor="end" fill="#383838" >7</text>
<line x1="65" y1="674.8" x2="597" y2="674.8" stroke="#b0b0b0" stroke-width="1.1" />
<text x="52.8" y="680.5999999999999" font-family='"Liberation Sans", sans-serif' font-size="16.2" font-weight="normal" text-anchor="end" fill="#383838" >8</text>
<line x1="70.8" y1="674.8" x2="70.8" y2="859" stroke="#b0b0b0" stroke-width="1.1" />
<line x1="70.8" y1="852.9" x2="70.8" y2="859" stroke="#b0b0b0" stroke-width="1.1" />
<text x="70.8" y="883.8" font-family='"Liberation Sans", sans-serif' font-size="16.2" font-weight="normal" text-anchor="middle" fill="#383838" >1</text>
<line x1="202.3" y1="852.9" x2="202.3" y2="859" stroke="#b0b0b0" stroke-width="1.1" />
<text x="202.3" y="883.8" font-family='"Liberation Sans", sans-serif' font-size="16.2" font-weight="normal" text-anchor="middle" fill="#383838" >3</text>
<line x1="333.8" y1="852.9" x2="333.8" y2="859" stroke="#b0b0b0" stroke-width="1.1" />
<text x="333.8" y="883.8" font-family='"Liberation Sans", sans-serif' font-size="16.2" font-weight="normal" text-anchor="middle" fill="#383838" >5</text>
<line x1="465.3" y1="852.9" x2="465.3" y2="859" stroke="#b0b0b0" stroke-width="1.1" />
<text x="465.3" y="883.8" font-family='"Liberation Sans", sans-serif' font-size="16.2" font-weight="normal" text-anchor="middle" fill="#383838" >7</text>
<line x1="596.8" y1="852.9" x2="596.8" y2="859" stroke="#b0b0b0" stroke-width="1.1" />
<text x="596.8" y="883.8" font-family='"Liberation Sans", sans-serif' font-size="16.2" font-weight="normal" text-anchor="middle" fill="#383838" >9</text>
<path d="M70.80,833.67 L74.09,832.86 L77.38,832.08 L80.66,831.35 L83.95,830.64 L87.24,829.96 L90.53,829.31 L93.81,828.68 L97.10,828.08 L100.39,827.50 L103.67,826.93 L106.96,826.39 L110.25,825.86 L113.54,825.35 L116.82,824.86 L120.11,824.38 L123.40,823.91 L126.69,823.45 L129.97,823.01 L133.26,822.58 L136.55,822.16 L139.84,821.75 L143.12,821.35 L146.41,820.96 L149.70,820.58 L152.99,820.20 L156.27,819.84 L159.56,819.48 L162.85,819.13 L166.14,818.79 L169.43,818.46 L172.71,818.13 L176.00,817.80 L179.29,817.49 L182.57,817.18 L185.86,816.87 L189.15,816.57 L192.44,816.28 L195.72,815.99 L199.01,815.71 L202.30,815.43 L205.59,815.16 L208.88,814.89 L212.16,814.62 L215.45,814.36 L218.74,814.10 L222.02,813.85 L225.31,813.60 L228.60,813.35 L231.89,813.11 L235.18,812.87 L238.46,812.64 L241.75,812.40 L245.04,812.17 L248.32,811.95 L251.61,811.73 L254.90,811.51 L258.19,811.29 L261.47,811.07 L264.76,810.86 L268.05,810.65 L271.34,810.45 L274.62,810.24 L277.91,810.04 L281.20,809.84 L284.49,809.65 L287.77,809.45 L291.06,809.26 L294.35,809.07 L297.64,808.88 L300.93,808.70 L304.21,808.52 L307.50,808.33 L310.79,808.15 L314.07,807.98 L317.36,807.80 L320.65,807.63 L323.94,807.46 L327.23,807.29 L330.51,807.12 L333.80,806.95" fill="none" stroke="#a33a3a" stroke-width="1.6" stroke-linejoin="round"/>
<path d="M70.80,829.70 L76.55,827.54 L82.31,825.55 L88.06,823.71 L93.81,821.99 L99.57,820.37 L105.32,818.85 L111.07,817.42 L116.82,816.06 L122.58,814.77 L128.33,813.54 L134.08,812.37 L139.84,811.25 L145.59,810.18 L151.34,809.15 L157.10,808.16 L162.85,807.20 L168.60,806.28 L174.36,805.39 L180.11,804.53 L185.86,803.70 L191.62,802.90 L197.37,802.12 L203.12,801.36 L208.88,800.62 L214.63,799.91 L220.38,799.21 L226.13,798.54 L231.89,797.88 L237.64,797.23 L243.39,796.60 L249.15,795.99 L254.90,795.39 L260.65,794.81 L266.41,794.24 L272.16,793.68 L277.91,793.13 L283.67,792.59 L289.42,792.07 L295.17,791.55 L300.93,791.05 L306.68,790.55 L312.43,790.07 L318.18,789.59 L323.94,789.12 L329.69,788.66 L335.44,788.21 L341.20,787.77 L346.95,787.33 L352.70,786.90 L358.46,786.48 L364.21,786.07 L369.96,785.66 L375.72,785.26 L381.47,784.86 L387.22,784.47 L392.98,784.09 L398.73,783.71 L404.48,783.34 L410.23,782.97 L415.99,782.61 L421.74,782.25 L427.49,781.90 L433.25,781.55 L439.00,781.21 L444.75,780.87 L450.51,780.53 L456.26,780.20 L462.01,779.88 L467.77,779.56 L473.52,779.24 L479.27,778.93 L485.02,778.62 L490.78,778.31 L496.53,778.01 L502.28,777.71 L508.04,777.41 L513.79,777.12 L519.54,776.83 L525.30,776.55 L531.05,776.26" fill="none" stroke="#e3151b" stroke-width="1.8" stroke-linejoin="round"/>
<path d="M70.80,824.40 L74.91,820.84 L79.02,817.48 L83.13,814.30 L87.24,811.29 L91.35,808.42 L95.46,805.69 L99.57,803.07 L103.67,800.57 L107.78,798.17 L111.89,795.87 L116.00,793.65 L120.11,791.51 L124.22,789.45 L128.33,787.46 L132.44,785.53 L136.55,783.67 L140.66,781.86 L144.77,780.10 L148.88,778.40 L152.99,776.74 L157.10,775.13 L161.21,773.57 L165.32,772.04 L169.43,770.55 L173.53,769.10 L177.64,767.68 L181.75,766.30 L185.86,764.95 L189.97,763.63 L194.08,762.34 L198.19,761.07 L202.30,759.84 L206.41,758.62 L210.52,757.44 L214.63,756.27 L218.74,755.13 L222.85,754.01 L226.96,752.91 L231.07,751.83 L235.18,750.78 L239.28,749.74 L243.39,748.71 L247.50,747.71 L251.61,746.72 L255.72,745.75 L259.83,744.79 L263.94,743.85 L268.05,742.93 L272.16,742.02 L276.27,741.12 L280.38,740.23 L284.49,739.36 L288.60,738.51 L292.71,737.66 L296.82,736.83 L300.93,736.00 L305.03,735.19 L309.14,734.39 L313.25,733.61 L317.36,732.83 L321.47,732.06 L325.58,731.30 L329.69,730.55 L333.80,729.81 L337.91,729.08 L342.02,728.36 L346.13,727.65 L350.24,726.94 L354.35,726.25 L358.46,725.56 L362.57,724.88 L366.68,724.21 L370.78,723.55 L374.89,722.89 L379.00,722.24 L383.11,721.60 L387.22,720.96 L391.33,720.33 L395.44,719.71 L399.55,719.10" fill="none" stroke="#111" stroke-width="2" stroke-linejoin="round"/>
<path d="M70.80,819.43 L76.55,813.86 L82.31,808.72 L88.06,803.95 L93.81,799.50 L99.57,795.33 L105.32,791.41 L111.07,787.70 L116.82,784.20 L122.58,780.86 L128.33,777.69 L134.08,774.66 L139.84,771.77 L145.59,768.99 L151.34,766.33 L157.10,763.77 L162.85,761.30 L168.60,758.92 L174.36,756.63 L180.11,754.41 L185.86,752.26 L191.62,750.18 L197.37,748.17 L203.12,746.21 L208.88,744.31 L214.63,742.46 L220.38,740.66 L226.13,738.91 L231.89,737.21 L237.64,735.54 L243.39,733.92 L249.15,732.34 L254.90,730.79 L260.65,729.28 L266.41,727.80 L272.16,726.35 L277.91,724.94 L283.67,723.55 L289.42,722.20 L295.17,720.87 L300.93,719.56 L306.68,718.29 L312.43,717.03 L318.18,715.80 L323.94,714.59 L329.69,713.40 L335.44,712.24 L341.20,711.09 L346.95,709.96 L352.70,708.86 L358.46,707.77 L364.21,706.69 L369.96,705.64 L375.72,704.60 L381.47,703.58 L387.22,702.57 L392.98,701.58 L398.73,700.60 L404.48,699.64 L410.23,698.69 L415.99,697.75 L421.74,696.83 L427.49,695.92 L433.25,695.02 L439.00,694.13 L444.75,693.26 L450.51,692.40 L456.26,691.55 L462.01,690.70 L467.77,689.87 L473.52,689.05 L479.27,688.24 L485.02,687.44 L490.78,686.65 L496.53,685.87 L502.28,685.10 L508.04,684.33 L513.79,683.58 L519.54,682.83 L525.30,682.09 L531.05,681.36" fill="none" stroke="#e3151b" stroke-width="1.8" stroke-linejoin="round"/>
<line x1="350" y1="816.38" x2="472" y2="816.38" stroke="#f0bcbc" stroke-width="0.7" />
<rect x="67.3" y="827.7" width="7" height="7" fill="#a4403f"/>
<rect x="133.1" y="824.1" width="7" height="7" fill="#a4403f"/>
<rect x="198.8" y="810.2" width="7" height="7" fill="#a4403f"/>
<rect x="264.6" y="813.1" width="7" height="7" fill="#a4403f"/>
<rect x="330.3" y="801.0" width="7" height="7" fill="#a4403f"/>
<path d="M66.8,847.8314 L74.8,855.8314 M66.8,855.8314 L74.8,847.8314" stroke="#8a7cc0" stroke-width="1.1"/>
<path d="M132.55,740.9714 L140.55,748.9714 M132.55,748.9714 L140.55,740.9714" stroke="#8a7cc0" stroke-width="1.1"/>
<path d="M198.3,750.5888 L206.3,758.5888 M198.3,758.5888 L206.3,750.5888" stroke="#8a7cc0" stroke-width="1.1"/>
<path d="M264.05,734.2036 L272.05,742.2036 M264.05,742.2036 L272.05,734.2036" stroke="#8a7cc0" stroke-width="1.1"/>
<path d="M329.8,732.7788 L337.8,740.7788 M329.8,740.7788 L337.8,732.7788" stroke="#8a7cc0" stroke-width="1.1"/>
<path d="M395.55,731.7102 L403.55,739.7102 M395.55,739.7102 L403.55,731.7102" stroke="#8a7cc0" stroke-width="1.1"/>
<path d="M66.8,827.8156 L74.8,833.8156 M66.8,833.8156 L74.8,827.8156 M70.8,826.3156 L70.8,835.3156" stroke="#62b6cf" stroke-width="1.1"/>
<path d="M132.55,809.6494 L140.55,815.6494 M132.55,815.6494 L140.55,809.6494 M136.55,808.1494 L136.55,817.1494" stroke="#62b6cf" stroke-width="1.1"/>
<path d="M198.3,799.6758 L206.3,805.6758 M198.3,805.6758 L206.3,799.6758 M202.3,798.1758 L202.3,807.1758" stroke="#62b6cf" stroke-width="1.1"/>
<path d="M264.05,792.908 L272.05,798.908 M264.05,798.908 L272.05,792.908 M268.05,791.408 L268.05,800.408" stroke="#62b6cf" stroke-width="1.1"/>
<path d="M329.8,776.879 L337.8,782.879 M329.8,782.879 L337.8,776.879 M333.8,775.379 L333.8,784.379" stroke="#62b6cf" stroke-width="1.1"/>
<path d="M395.55,782.9344 L403.55,788.9344 M395.55,788.9344 L403.55,782.9344 M399.55,781.4344 L399.55,790.4344" stroke="#62b6cf" stroke-width="1.1"/>
<path d="M461.3,783.6468 L469.3,789.6468 M461.3,789.6468 L469.3,783.6468 M465.3,782.1468 L465.3,791.1468" stroke="#62b6cf" stroke-width="1.1"/>
<path d="M527.05,773.317 L535.05,779.317 M527.05,779.317 L535.05,773.317 M531.05,771.817 L531.05,780.817" stroke="#62b6cf" stroke-width="1.1"/>
<circle cx="70.8" cy="835.9" r="5.2" fill="#fdf6d8"/><circle cx="70.8" cy="835.1" r="3.9" fill="#df7f48"/>
<circle cx="136.6" cy="765.0" r="5.2" fill="#fdf6d8"/><circle cx="136.6" cy="764.2" r="3.9" fill="#df7f48"/>
<circle cx="202.3" cy="729.0" r="5.2" fill="#fdf6d8"/><circle cx="202.3" cy="728.2" r="3.9" fill="#df7f48"/>
<circle cx="268.1" cy="722.6" r="5.2" fill="#fdf6d8"/><circle cx="268.1" cy="721.8" r="3.9" fill="#df7f48"/>
<circle cx="333.8" cy="698.4" r="5.2" fill="#fdf6d8"/><circle cx="333.8" cy="697.6" r="3.9" fill="#df7f48"/>
<circle cx="399.6" cy="712.3" r="5.2" fill="#fdf6d8"/><circle cx="399.6" cy="711.5" r="3.9" fill="#df7f48"/>
<circle cx="465.3" cy="702.7" r="5.2" fill="#fdf6d8"/><circle cx="465.3" cy="701.9" r="3.9" fill="#df7f48"/>
<circle cx="531.0" cy="688.1" r="5.2" fill="#fdf6d8"/><circle cx="531.0" cy="687.3" r="3.9" fill="#df7f48"/>
<text x="539.5" y="695.6" font-family='"Liberation Serif", serif' font-size="15" font-weight="bold" text-anchor="start" fill="#111" >1</text>
<text x="412" y="731" font-family='"Liberation Serif", serif' font-size="15" font-weight="bold" text-anchor="start" fill="#111" >2</text>
<text x="541" y="787.8" font-family='"Liberation Serif", serif' font-size="15" font-weight="bold" text-anchor="start" fill="#111" >3</text>
<text x="342.5" y="824.5" font-family='"Liberation Serif", serif' font-size="15" font-weight="bold" text-anchor="start" fill="#111" >4</text>
<text x="284.3" y="897" font-family='"Liberation Sans", sans-serif' font-size="13.8" font-weight="bold" text-anchor="start" fill="#1a1a1a" textLength="97.5" lengthAdjust="spacingAndGlyphs" >Day Number</text>
<text x="0" y="0" font-family='"Liberation Sans", sans-serif' font-size="14.5" font-weight="bold" text-anchor="middle" fill="#1a1a1a" textLength="135" lengthAdjust="spacingAndGlyphs" transform="translate(36.3,763.8) rotate(-90)">Spike Area ( cm<tspan font-size="10" dy="-5.5">2</tspan><tspan dy="5.5">)</tspan></text>
<text x="1.5" y="26.3" font-family='"Liberation Serif", serif' font-size="21" font-weight="bold" text-anchor="start" fill="#000" >a</text>
<text x="2.3" y="353" font-family='"Liberation Serif", serif' font-size="21" font-weight="bold" text-anchor="start" fill="#000" >b</text>
<text x="2.5" y="664.8" font-family='"Liberation Serif", serif' font-size="20.5" font-weight="bold" text-anchor="start" fill="#000" >c</text>
</svg>
</body></html>
